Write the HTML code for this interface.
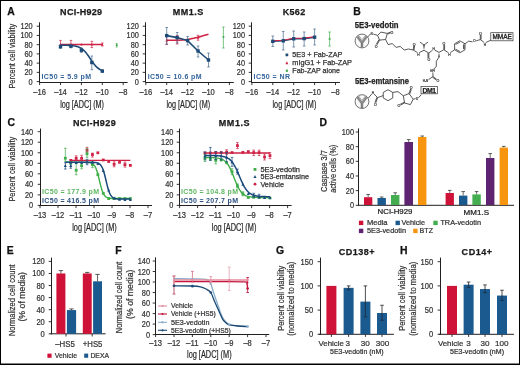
<!DOCTYPE html>
<html><head><meta charset="utf-8"><style>
html,body{margin:0;padding:0;background:#fff;}
svg{display:block;will-change:transform;font-family:"Liberation Sans", sans-serif;}
</style></head><body>
<svg width="520" height="365" viewBox="0 0 520 365">
<rect x="0" y="0" width="520" height="365" fill="#fff"/>
<rect x="0" y="0" width="520" height="1" fill="#000" />
<rect x="0" y="0" width="1" height="365" fill="#000" />
<rect x="519" y="0" width="1" height="365" fill="#000" />
<rect x="0" y="363.5" width="520" height="1.5" fill="#000" />
<text x="7.2" y="14.5" font-size="10.4" fill="#111" stroke="#111" stroke-width="0.25" font-weight="bold" textLength="8.4" lengthAdjust="spacing" >A</text>
<text x="60.1" y="15.2" font-size="9" fill="#1a1a1a" stroke="#1a1a1a" stroke-width="0.25" font-weight="bold" textLength="42" lengthAdjust="spacing" >NCI-H929</text>
<text x="172.7" y="15.3" font-size="9" fill="#1a1a1a" stroke="#1a1a1a" stroke-width="0.25" font-weight="bold" textLength="30.6" lengthAdjust="spacing" >MM1.S</text>
<text x="282.7" y="15.4" font-size="9" fill="#1a1a1a" stroke="#1a1a1a" stroke-width="0.25" font-weight="bold" textLength="22.5" lengthAdjust="spacing" >K562</text>
<line x1="39.5" y1="22.3" x2="39.5" y2="82.7" stroke="#231f20" stroke-width="1" />
<line x1="36.7" y1="81.6" x2="39.5" y2="81.6" stroke="#231f20" stroke-width="0.9" />
<text x="28.6" y="84.6" font-size="8.4" fill="#333" stroke="#333" stroke-width="0.22" textLength="4.1" lengthAdjust="spacingAndGlyphs" >0</text>
<line x1="36.7" y1="72.37" x2="39.5" y2="72.37" stroke="#231f20" stroke-width="0.9" />
<text x="24.5" y="75.37" font-size="8.4" fill="#333" stroke="#333" stroke-width="0.22" textLength="8.2" lengthAdjust="spacingAndGlyphs" >20</text>
<line x1="36.7" y1="63.13" x2="39.5" y2="63.13" stroke="#231f20" stroke-width="0.9" />
<text x="24.5" y="66.13" font-size="8.4" fill="#333" stroke="#333" stroke-width="0.22" textLength="8.2" lengthAdjust="spacingAndGlyphs" >40</text>
<line x1="36.7" y1="53.9" x2="39.5" y2="53.9" stroke="#231f20" stroke-width="0.9" />
<text x="24.5" y="56.9" font-size="8.4" fill="#333" stroke="#333" stroke-width="0.22" textLength="8.2" lengthAdjust="spacingAndGlyphs" >60</text>
<line x1="36.7" y1="44.66" x2="39.5" y2="44.66" stroke="#231f20" stroke-width="0.9" />
<text x="24.5" y="47.66" font-size="8.4" fill="#333" stroke="#333" stroke-width="0.22" textLength="8.2" lengthAdjust="spacingAndGlyphs" >80</text>
<line x1="36.7" y1="35.43" x2="39.5" y2="35.43" stroke="#231f20" stroke-width="0.9" />
<text x="20.4" y="38.43" font-size="8.4" fill="#333" stroke="#333" stroke-width="0.22" textLength="12.3" lengthAdjust="spacingAndGlyphs" >100</text>
<line x1="36.7" y1="26.2" x2="39.5" y2="26.2" stroke="#231f20" stroke-width="0.9" />
<text x="20.4" y="29.2" font-size="8.4" fill="#333" stroke="#333" stroke-width="0.22" textLength="12.3" lengthAdjust="spacingAndGlyphs" >120</text>
<line x1="39.1" y1="82.5" x2="127.6" y2="82.5" stroke="#231f20" stroke-width="1" />
<line x1="39.6" y1="82.5" x2="39.6" y2="85.1" stroke="#231f20" stroke-width="0.9" />
<text x="33.3" y="94.9" font-size="8.4" fill="#333" stroke="#333" stroke-width="0.22" textLength="12.6" lengthAdjust="spacingAndGlyphs" >–16</text>
<line x1="60.5" y1="82.5" x2="60.5" y2="85.1" stroke="#231f20" stroke-width="0.9" />
<text x="54.2" y="94.9" font-size="8.4" fill="#333" stroke="#333" stroke-width="0.22" textLength="12.6" lengthAdjust="spacingAndGlyphs" >–14</text>
<line x1="81.4" y1="82.5" x2="81.4" y2="85.1" stroke="#231f20" stroke-width="0.9" />
<text x="75.1" y="94.9" font-size="8.4" fill="#333" stroke="#333" stroke-width="0.22" textLength="12.6" lengthAdjust="spacingAndGlyphs" >–12</text>
<line x1="102.3" y1="82.5" x2="102.3" y2="85.1" stroke="#231f20" stroke-width="0.9" />
<text x="96" y="94.9" font-size="8.4" fill="#333" stroke="#333" stroke-width="0.22" textLength="12.6" lengthAdjust="spacingAndGlyphs" >–10</text>
<line x1="123.2" y1="82.5" x2="123.2" y2="85.1" stroke="#231f20" stroke-width="0.9" />
<text x="119" y="94.9" font-size="8.4" fill="#333" stroke="#333" stroke-width="0.22" textLength="8.4" lengthAdjust="spacingAndGlyphs" >–8</text>
<text x="60.2" y="107.5" font-size="10" fill="#2a2a2a" stroke="#2a2a2a" stroke-width="0.22" textLength="43.8" lengthAdjust="spacingAndGlyphs" >log [ADC] (M)</text>
<line x1="145.5" y1="22.3" x2="145.5" y2="82.7" stroke="#231f20" stroke-width="1" />
<line x1="142.7" y1="81.6" x2="145.5" y2="81.6" stroke="#231f20" stroke-width="0.9" />
<text x="134.8" y="84.6" font-size="8.4" fill="#333" stroke="#333" stroke-width="0.22" textLength="4.1" lengthAdjust="spacingAndGlyphs" >0</text>
<line x1="142.7" y1="72.37" x2="145.5" y2="72.37" stroke="#231f20" stroke-width="0.9" />
<text x="130.7" y="75.37" font-size="8.4" fill="#333" stroke="#333" stroke-width="0.22" textLength="8.2" lengthAdjust="spacingAndGlyphs" >20</text>
<line x1="142.7" y1="63.13" x2="145.5" y2="63.13" stroke="#231f20" stroke-width="0.9" />
<text x="130.7" y="66.13" font-size="8.4" fill="#333" stroke="#333" stroke-width="0.22" textLength="8.2" lengthAdjust="spacingAndGlyphs" >40</text>
<line x1="142.7" y1="53.9" x2="145.5" y2="53.9" stroke="#231f20" stroke-width="0.9" />
<text x="130.7" y="56.9" font-size="8.4" fill="#333" stroke="#333" stroke-width="0.22" textLength="8.2" lengthAdjust="spacingAndGlyphs" >60</text>
<line x1="142.7" y1="44.66" x2="145.5" y2="44.66" stroke="#231f20" stroke-width="0.9" />
<text x="130.7" y="47.66" font-size="8.4" fill="#333" stroke="#333" stroke-width="0.22" textLength="8.2" lengthAdjust="spacingAndGlyphs" >80</text>
<line x1="142.7" y1="35.43" x2="145.5" y2="35.43" stroke="#231f20" stroke-width="0.9" />
<text x="126.6" y="38.43" font-size="8.4" fill="#333" stroke="#333" stroke-width="0.22" textLength="12.3" lengthAdjust="spacingAndGlyphs" >100</text>
<line x1="142.7" y1="26.2" x2="145.5" y2="26.2" stroke="#231f20" stroke-width="0.9" />
<text x="126.6" y="29.2" font-size="8.4" fill="#333" stroke="#333" stroke-width="0.22" textLength="12.3" lengthAdjust="spacingAndGlyphs" >120</text>
<line x1="145.3" y1="82.5" x2="233.8" y2="82.5" stroke="#231f20" stroke-width="1" />
<line x1="145.8" y1="82.5" x2="145.8" y2="85.1" stroke="#231f20" stroke-width="0.9" />
<text x="139.5" y="94.9" font-size="8.4" fill="#333" stroke="#333" stroke-width="0.22" textLength="12.6" lengthAdjust="spacingAndGlyphs" >–16</text>
<line x1="166.7" y1="82.5" x2="166.7" y2="85.1" stroke="#231f20" stroke-width="0.9" />
<text x="160.4" y="94.9" font-size="8.4" fill="#333" stroke="#333" stroke-width="0.22" textLength="12.6" lengthAdjust="spacingAndGlyphs" >–14</text>
<line x1="187.6" y1="82.5" x2="187.6" y2="85.1" stroke="#231f20" stroke-width="0.9" />
<text x="181.3" y="94.9" font-size="8.4" fill="#333" stroke="#333" stroke-width="0.22" textLength="12.6" lengthAdjust="spacingAndGlyphs" >–12</text>
<line x1="208.5" y1="82.5" x2="208.5" y2="85.1" stroke="#231f20" stroke-width="0.9" />
<text x="202.2" y="94.9" font-size="8.4" fill="#333" stroke="#333" stroke-width="0.22" textLength="12.6" lengthAdjust="spacingAndGlyphs" >–10</text>
<line x1="229.4" y1="82.5" x2="229.4" y2="85.1" stroke="#231f20" stroke-width="0.9" />
<text x="225.2" y="94.9" font-size="8.4" fill="#333" stroke="#333" stroke-width="0.22" textLength="8.4" lengthAdjust="spacingAndGlyphs" >–8</text>
<text x="166.4" y="107.5" font-size="10" fill="#2a2a2a" stroke="#2a2a2a" stroke-width="0.22" textLength="43.8" lengthAdjust="spacingAndGlyphs" >log [ADC] (M)</text>
<line x1="251.5" y1="22.3" x2="251.5" y2="82.7" stroke="#231f20" stroke-width="1" />
<line x1="248.7" y1="81.6" x2="251.5" y2="81.6" stroke="#231f20" stroke-width="0.9" />
<text x="240.9" y="84.6" font-size="8.4" fill="#333" stroke="#333" stroke-width="0.22" textLength="4.1" lengthAdjust="spacingAndGlyphs" >0</text>
<line x1="248.7" y1="72.37" x2="251.5" y2="72.37" stroke="#231f20" stroke-width="0.9" />
<text x="236.8" y="75.37" font-size="8.4" fill="#333" stroke="#333" stroke-width="0.22" textLength="8.2" lengthAdjust="spacingAndGlyphs" >20</text>
<line x1="248.7" y1="63.13" x2="251.5" y2="63.13" stroke="#231f20" stroke-width="0.9" />
<text x="236.8" y="66.13" font-size="8.4" fill="#333" stroke="#333" stroke-width="0.22" textLength="8.2" lengthAdjust="spacingAndGlyphs" >40</text>
<line x1="248.7" y1="53.9" x2="251.5" y2="53.9" stroke="#231f20" stroke-width="0.9" />
<text x="236.8" y="56.9" font-size="8.4" fill="#333" stroke="#333" stroke-width="0.22" textLength="8.2" lengthAdjust="spacingAndGlyphs" >60</text>
<line x1="248.7" y1="44.66" x2="251.5" y2="44.66" stroke="#231f20" stroke-width="0.9" />
<text x="236.8" y="47.66" font-size="8.4" fill="#333" stroke="#333" stroke-width="0.22" textLength="8.2" lengthAdjust="spacingAndGlyphs" >80</text>
<line x1="248.7" y1="35.43" x2="251.5" y2="35.43" stroke="#231f20" stroke-width="0.9" />
<text x="232.7" y="38.43" font-size="8.4" fill="#333" stroke="#333" stroke-width="0.22" textLength="12.3" lengthAdjust="spacingAndGlyphs" >100</text>
<line x1="248.7" y1="26.2" x2="251.5" y2="26.2" stroke="#231f20" stroke-width="0.9" />
<text x="232.7" y="29.2" font-size="8.4" fill="#333" stroke="#333" stroke-width="0.22" textLength="12.3" lengthAdjust="spacingAndGlyphs" >120</text>
<line x1="251.4" y1="82.5" x2="339.9" y2="82.5" stroke="#231f20" stroke-width="1" />
<line x1="251.9" y1="82.5" x2="251.9" y2="85.1" stroke="#231f20" stroke-width="0.9" />
<text x="245.6" y="94.9" font-size="8.4" fill="#333" stroke="#333" stroke-width="0.22" textLength="12.6" lengthAdjust="spacingAndGlyphs" >–16</text>
<line x1="272.8" y1="82.5" x2="272.8" y2="85.1" stroke="#231f20" stroke-width="0.9" />
<text x="266.5" y="94.9" font-size="8.4" fill="#333" stroke="#333" stroke-width="0.22" textLength="12.6" lengthAdjust="spacingAndGlyphs" >–14</text>
<line x1="293.7" y1="82.5" x2="293.7" y2="85.1" stroke="#231f20" stroke-width="0.9" />
<text x="287.4" y="94.9" font-size="8.4" fill="#333" stroke="#333" stroke-width="0.22" textLength="12.6" lengthAdjust="spacingAndGlyphs" >–12</text>
<line x1="314.6" y1="82.5" x2="314.6" y2="85.1" stroke="#231f20" stroke-width="0.9" />
<text x="308.3" y="94.9" font-size="8.4" fill="#333" stroke="#333" stroke-width="0.22" textLength="12.6" lengthAdjust="spacingAndGlyphs" >–10</text>
<line x1="335.5" y1="82.5" x2="335.5" y2="85.1" stroke="#231f20" stroke-width="0.9" />
<text x="331.3" y="94.9" font-size="8.4" fill="#333" stroke="#333" stroke-width="0.22" textLength="8.4" lengthAdjust="spacingAndGlyphs" >–8</text>
<text x="272.5" y="107.5" font-size="10" fill="#2a2a2a" stroke="#2a2a2a" stroke-width="0.22" textLength="43.8" lengthAdjust="spacingAndGlyphs" >log [ADC] (M)</text>
<text transform="translate(15,88.55) rotate(-90)" font-size="8.8" fill="#333" stroke="#333" stroke-width="0.22" textLength="64.7" lengthAdjust="spacingAndGlyphs" >Percent cell viability</text>
<text x="41.5" y="79.2" font-size="7" fill="#33649b" font-weight="bold" textLength="49.5" lengthAdjust="spacing" >IC50 = 5.9 pM</text>
<text x="147.7" y="79.2" font-size="7" fill="#33649b" font-weight="bold" textLength="53.9" lengthAdjust="spacing" >IC50 = 10.6 pM</text>
<text x="253.6" y="79.2" font-size="7" fill="#33649b" font-weight="bold" textLength="36.4" lengthAdjust="spacing" >IC50 = NR</text>
<line x1="60.5" y1="44.4" x2="102.3" y2="44.4" stroke="#d02346" stroke-width="1.5" />
<line x1="60.5" y1="40.4" x2="60.5" y2="47.3" stroke="#d02346" stroke-width="0.7" />
<line x1="59.2" y1="40.4" x2="61.8" y2="40.4" stroke="#d02346" stroke-width="0.7" />
<line x1="59.2" y1="47.3" x2="61.8" y2="47.3" stroke="#d02346" stroke-width="0.7" />
<line x1="70.95" y1="40.4" x2="70.95" y2="46.2" stroke="#d02346" stroke-width="0.7" />
<line x1="69.65" y1="40.4" x2="72.25" y2="40.4" stroke="#d02346" stroke-width="0.7" />
<line x1="69.65" y1="46.2" x2="72.25" y2="46.2" stroke="#d02346" stroke-width="0.7" />
<line x1="91.85" y1="41.3" x2="91.85" y2="47.6" stroke="#d02346" stroke-width="0.7" />
<line x1="90.55" y1="41.3" x2="93.15" y2="41.3" stroke="#d02346" stroke-width="0.7" />
<line x1="90.55" y1="47.6" x2="93.15" y2="47.6" stroke="#d02346" stroke-width="0.7" />
<line x1="102.3" y1="43" x2="102.3" y2="46" stroke="#d02346" stroke-width="0.7" />
<line x1="101" y1="43" x2="103.6" y2="43" stroke="#d02346" stroke-width="0.7" />
<line x1="101" y1="46" x2="103.6" y2="46" stroke="#d02346" stroke-width="0.7" />
<path d="M60.5 42.93 L61.8 45.57 L59.2 45.57 Z" stroke="none" stroke-width="1" fill="#d02346" />
<path d="M70.95 42.93 L72.25 45.57 L69.65 45.57 Z" stroke="none" stroke-width="1" fill="#d02346" />
<path d="M81.4 42.93 L82.7 45.57 L80.1 45.57 Z" stroke="none" stroke-width="1" fill="#d02346" />
<path d="M91.85 42.93 L93.15 45.57 L90.55 45.57 Z" stroke="none" stroke-width="1" fill="#d02346" />
<path d="M102.3 42.93 L103.6 45.57 L101 45.57 Z" stroke="none" stroke-width="1" fill="#d02346" />
<path d="M60.5 45.16 C60.62 45.17 60.96 45.17 61.2 45.17 C61.43 45.17 61.66 45.18 61.89 45.18 C62.13 45.18 62.36 45.18 62.59 45.19 C62.82 45.19 63.05 45.19 63.29 45.2 C63.52 45.2 63.75 45.2 63.98 45.21 C64.22 45.21 64.45 45.22 64.68 45.22 C64.91 45.23 65.14 45.23 65.38 45.24 C65.61 45.24 65.84 45.25 66.07 45.26 C66.31 45.26 66.54 45.27 66.77 45.28 C67 45.29 67.23 45.29 67.47 45.3 C67.7 45.31 67.93 45.32 68.16 45.33 C68.4 45.34 68.63 45.35 68.86 45.37 C69.09 45.38 69.32 45.39 69.56 45.41 C69.79 45.42 70.02 45.44 70.25 45.45 C70.49 45.47 70.72 45.49 70.95 45.51 C71.18 45.52 71.41 45.54 71.65 45.57 C71.88 45.59 72.11 45.61 72.34 45.64 C72.58 45.66 72.81 45.69 73.04 45.72 C73.27 45.75 73.5 45.78 73.74 45.82 C73.97 45.85 74.2 45.89 74.43 45.93 C74.67 45.97 74.9 46.01 75.13 46.06 C75.36 46.11 75.59 46.15 75.83 46.21 C76.06 46.26 76.29 46.32 76.52 46.38 C76.76 46.44 76.99 46.51 77.22 46.58 C77.45 46.65 77.68 46.72 77.92 46.8 C78.15 46.88 78.38 46.97 78.61 47.06 C78.85 47.15 79.08 47.25 79.31 47.35 C79.54 47.46 79.77 47.57 80.01 47.69 C80.24 47.81 80.47 47.93 80.7 48.07 C80.94 48.2 81.17 48.35 81.4 48.5 C81.63 48.65 81.86 48.81 82.1 48.98 C82.33 49.15 82.56 49.33 82.79 49.51 C83.03 49.7 83.26 49.9 83.49 50.11 C83.72 50.32 83.95 50.54 84.19 50.76 C84.42 50.99 84.65 51.23 84.88 51.48 C85.12 51.73 85.35 51.99 85.58 52.26 C85.81 52.53 86.04 52.81 86.28 53.1 C86.51 53.39 86.74 53.68 86.97 53.99 C87.21 54.29 87.44 54.61 87.67 54.93 C87.9 55.25 88.13 55.58 88.37 55.91 C88.6 56.25 88.83 56.59 89.06 56.93 C89.3 57.27 89.53 57.62 89.76 57.96 C89.99 58.31 90.22 58.66 90.46 59.01 C90.69 59.35 90.92 59.7 91.15 60.05 C91.39 60.39 91.62 60.74 91.85 61.07 C92.08 61.41 92.31 61.75 92.55 62.07 C92.78 62.4 93.01 62.72 93.24 63.04 C93.48 63.35 93.71 63.66 93.94 63.96 C94.17 64.25 94.4 64.54 94.64 64.82 C94.87 65.1 95.1 65.37 95.33 65.63 C95.57 65.89 95.8 66.14 96.03 66.38 C96.26 66.62 96.49 66.84 96.73 67.06 C96.96 67.28 97.19 67.49 97.42 67.69 C97.66 67.89 97.89 68.07 98.12 68.25 C98.35 68.43 98.58 68.6 98.82 68.76 C99.05 68.92 99.28 69.07 99.51 69.21 C99.75 69.36 99.98 69.49 100.21 69.62 C100.44 69.74 100.67 69.86 100.91 69.97 C101.14 70.09 101.37 70.19 101.6 70.29 C101.84 70.39 102.18 70.52 102.3 70.57" stroke="#1d4a76" stroke-width="1.6" fill="none" />
<line x1="60.5" y1="45" x2="60.5" y2="48.5" stroke="#46698c" stroke-width="0.7" />
<line x1="59.3" y1="45" x2="61.7" y2="45" stroke="#46698c" stroke-width="0.7" />
<line x1="59.3" y1="48.5" x2="61.7" y2="48.5" stroke="#46698c" stroke-width="0.7" />
<line x1="70.95" y1="45" x2="70.95" y2="47.8" stroke="#46698c" stroke-width="0.7" />
<line x1="69.75" y1="45" x2="72.15" y2="45" stroke="#46698c" stroke-width="0.7" />
<line x1="69.75" y1="47.8" x2="72.15" y2="47.8" stroke="#46698c" stroke-width="0.7" />
<line x1="81.4" y1="48" x2="81.4" y2="52.4" stroke="#46698c" stroke-width="0.7" />
<line x1="80.2" y1="48" x2="82.6" y2="48" stroke="#46698c" stroke-width="0.7" />
<line x1="80.2" y1="52.4" x2="82.6" y2="52.4" stroke="#46698c" stroke-width="0.7" />
<line x1="91.85" y1="56" x2="91.85" y2="69.7" stroke="#46698c" stroke-width="0.7" />
<line x1="90.65" y1="56" x2="93.05" y2="56" stroke="#46698c" stroke-width="0.7" />
<line x1="90.65" y1="69.7" x2="93.05" y2="69.7" stroke="#46698c" stroke-width="0.7" />
<line x1="102.3" y1="70" x2="102.3" y2="72.2" stroke="#46698c" stroke-width="0.7" />
<line x1="101.1" y1="70" x2="103.5" y2="70" stroke="#46698c" stroke-width="0.7" />
<line x1="101.1" y1="72.2" x2="103.5" y2="72.2" stroke="#46698c" stroke-width="0.7" />
<rect x="58.8" y="44.9" width="3.4" height="3.4" fill="#1d4a76" />
<rect x="69.25" y="44.5" width="3.4" height="3.4" fill="#1d4a76" />
<rect x="79.7" y="48.5" width="3.4" height="3.4" fill="#1d4a76" />
<rect x="90.15" y="60.8" width="3.4" height="3.4" fill="#1d4a76" />
<rect x="100.6" y="69.4" width="3.4" height="3.4" fill="#1d4a76" />
<line x1="116.7" y1="43.5" x2="116.7" y2="47" stroke="#43ad4f" stroke-width="0.8" />
<line x1="115.9" y1="43.5" x2="117.5" y2="43.5" stroke="#43ad4f" stroke-width="0.8" />
<line x1="115.9" y1="47" x2="117.5" y2="47" stroke="#43ad4f" stroke-width="0.8" />
<rect x="115.8" y="44.3" width="1.8" height="1.8" fill="#43ad4f" />
<path d="M166.7 40.3 C168.44 40.28 173.67 40.35 177.15 40.2 C180.63 40.05 184.12 39.88 187.6 39.4 C191.08 38.92 194.57 38.17 198.05 37.3 C201.53 36.43 206.76 34.72 208.5 34.2" stroke="#d02346" stroke-width="1.5" fill="none" />
<line x1="166.7" y1="36" x2="166.7" y2="44.5" stroke="#d02346" stroke-width="0.7" />
<line x1="165.4" y1="36" x2="168" y2="36" stroke="#d02346" stroke-width="0.7" />
<line x1="165.4" y1="44.5" x2="168" y2="44.5" stroke="#d02346" stroke-width="0.7" />
<line x1="177.15" y1="35.5" x2="177.15" y2="44" stroke="#d02346" stroke-width="0.7" />
<line x1="175.85" y1="35.5" x2="178.45" y2="35.5" stroke="#d02346" stroke-width="0.7" />
<line x1="175.85" y1="44" x2="178.45" y2="44" stroke="#d02346" stroke-width="0.7" />
<line x1="198.05" y1="35.3" x2="198.05" y2="40.2" stroke="#d02346" stroke-width="0.7" />
<line x1="196.75" y1="35.3" x2="199.35" y2="35.3" stroke="#d02346" stroke-width="0.7" />
<line x1="196.75" y1="40.2" x2="199.35" y2="40.2" stroke="#d02346" stroke-width="0.7" />
<path d="M166.7 38.83 L168 41.47 L165.4 41.47 Z" stroke="none" stroke-width="1" fill="#d02346" />
<path d="M177.15 38.73 L178.45 41.37 L175.85 41.37 Z" stroke="none" stroke-width="1" fill="#d02346" />
<path d="M198.05 36.13 L199.35 38.77 L196.75 38.77 Z" stroke="none" stroke-width="1" fill="#d02346" />
<path d="M166.7 35.6 L177.15 37.6 L187.6 40.6 L198.05 51 L208.5 60" stroke="#1d4a76" stroke-width="1.6" fill="none" />
<line x1="166.7" y1="27.5" x2="166.7" y2="44.1" stroke="#46698c" stroke-width="0.7" />
<line x1="165.4" y1="27.5" x2="168" y2="27.5" stroke="#46698c" stroke-width="0.7" />
<line x1="165.4" y1="44.1" x2="168" y2="44.1" stroke="#46698c" stroke-width="0.7" />
<line x1="177.15" y1="32.5" x2="177.15" y2="43" stroke="#46698c" stroke-width="0.7" />
<line x1="175.85" y1="32.5" x2="178.45" y2="32.5" stroke="#46698c" stroke-width="0.7" />
<line x1="175.85" y1="43" x2="178.45" y2="43" stroke="#46698c" stroke-width="0.7" />
<line x1="187.6" y1="36.5" x2="187.6" y2="45" stroke="#46698c" stroke-width="0.7" />
<line x1="186.3" y1="36.5" x2="188.9" y2="36.5" stroke="#46698c" stroke-width="0.7" />
<line x1="186.3" y1="45" x2="188.9" y2="45" stroke="#46698c" stroke-width="0.7" />
<line x1="198.05" y1="46" x2="198.05" y2="57" stroke="#46698c" stroke-width="0.7" />
<line x1="196.75" y1="46" x2="199.35" y2="46" stroke="#46698c" stroke-width="0.7" />
<line x1="196.75" y1="57" x2="199.35" y2="57" stroke="#46698c" stroke-width="0.7" />
<line x1="208.5" y1="53" x2="208.5" y2="67" stroke="#46698c" stroke-width="0.7" />
<line x1="207.2" y1="53" x2="209.8" y2="53" stroke="#46698c" stroke-width="0.7" />
<line x1="207.2" y1="67" x2="209.8" y2="67" stroke="#46698c" stroke-width="0.7" />
<rect x="165" y="33.9" width="3.4" height="3.4" fill="#1d4a76" />
<rect x="175.45" y="35.9" width="3.4" height="3.4" fill="#1d4a76" />
<rect x="185.9" y="38.9" width="3.4" height="3.4" fill="#1d4a76" />
<rect x="196.35" y="49.3" width="3.4" height="3.4" fill="#1d4a76" />
<rect x="206.8" y="58.3" width="3.4" height="3.4" fill="#1d4a76" />
<line x1="223.4" y1="27" x2="223.4" y2="48" stroke="#43ad4f" stroke-width="0.7" />
<line x1="222.1" y1="27" x2="224.7" y2="27" stroke="#43ad4f" stroke-width="0.7" />
<line x1="222.1" y1="48" x2="224.7" y2="48" stroke="#43ad4f" stroke-width="0.7" />
<rect x="222.5" y="36.1" width="1.8" height="1.8" fill="#43ad4f" />
<line x1="272.8" y1="36" x2="272.8" y2="46.5" stroke="#46698c" stroke-width="0.7" />
<line x1="271.5" y1="36" x2="274.1" y2="36" stroke="#46698c" stroke-width="0.7" />
<line x1="271.5" y1="46.5" x2="274.1" y2="46.5" stroke="#46698c" stroke-width="0.7" />
<line x1="283.25" y1="31.5" x2="283.25" y2="50" stroke="#46698c" stroke-width="0.7" />
<line x1="281.95" y1="31.5" x2="284.55" y2="31.5" stroke="#46698c" stroke-width="0.7" />
<line x1="281.95" y1="50" x2="284.55" y2="50" stroke="#46698c" stroke-width="0.7" />
<line x1="293.7" y1="31" x2="293.7" y2="47" stroke="#46698c" stroke-width="0.7" />
<line x1="292.4" y1="31" x2="295" y2="31" stroke="#46698c" stroke-width="0.7" />
<line x1="292.4" y1="47" x2="295" y2="47" stroke="#46698c" stroke-width="0.7" />
<line x1="304.15" y1="32" x2="304.15" y2="46" stroke="#46698c" stroke-width="0.7" />
<line x1="302.85" y1="32" x2="305.45" y2="32" stroke="#46698c" stroke-width="0.7" />
<line x1="302.85" y1="46" x2="305.45" y2="46" stroke="#46698c" stroke-width="0.7" />
<line x1="314.6" y1="29" x2="314.6" y2="45" stroke="#46698c" stroke-width="0.7" />
<line x1="313.3" y1="29" x2="315.9" y2="29" stroke="#46698c" stroke-width="0.7" />
<line x1="313.3" y1="45" x2="315.9" y2="45" stroke="#46698c" stroke-width="0.7" />
<path d="M272.8 41.3 L283.25 40.8 L293.7 38.8 L304.15 38.6 L314.6 37.2" stroke="#1d4a76" stroke-width="1.6" fill="none" />
<path d="M272.8 40.8 L283.25 40.3 L293.7 38.3 L304.15 38.1 L314.6 36.7" stroke="#d02346" stroke-width="1.1" fill="none" />
<rect x="271.1" y="39.6" width="3.4" height="3.4" fill="#1d4a76" />
<rect x="281.55" y="39.1" width="3.4" height="3.4" fill="#1d4a76" />
<rect x="292" y="37.1" width="3.4" height="3.4" fill="#1d4a76" />
<rect x="302.45" y="36.9" width="3.4" height="3.4" fill="#1d4a76" />
<rect x="312.9" y="35.5" width="3.4" height="3.4" fill="#1d4a76" />
<line x1="329.6" y1="32" x2="329.6" y2="46" stroke="#43ad4f" stroke-width="0.7" />
<line x1="328.3" y1="32" x2="330.9" y2="32" stroke="#43ad4f" stroke-width="0.7" />
<line x1="328.3" y1="46" x2="330.9" y2="46" stroke="#43ad4f" stroke-width="0.7" />
<rect x="328.7" y="38.1" width="1.8" height="1.8" fill="#43ad4f" />
<rect x="285.55" y="53.55" width="2.7" height="2.7" fill="#1d4a76" />
<text x="292.3" y="57.3" font-size="7" fill="#333" stroke="#333" stroke-width="0.25" textLength="50" lengthAdjust="spacingAndGlyphs" >5E3 + Fab-ZAP</text>
<path d="M286.9 61.25 L288.4 64.25 L285.4 64.25 Z" stroke="none" stroke-width="1" fill="#d02346" />
<text x="292.3" y="65.3" font-size="7" fill="#333" stroke="#333" stroke-width="0.25" textLength="59.7" lengthAdjust="spacingAndGlyphs" >mIgG1 + Fab-ZAP</text>
<circle cx="286.9" cy="70.8" r="1.2" fill="#43ad4f"/>
<text x="292.3" y="72.8" font-size="7" fill="#333" stroke="#333" stroke-width="0.25" textLength="47.7" lengthAdjust="spacingAndGlyphs" >Fab-ZAP alone</text>
<text x="353.2" y="14.7" font-size="10.4" fill="#111" stroke="#111" stroke-width="0.25" font-weight="bold" >B</text>
<text x="354.8" y="28.2" font-size="8.8" fill="#222" stroke="#222" stroke-width="0.25" font-weight="bold" textLength="43.8" lengthAdjust="spacingAndGlyphs" >5E3-vedotin</text>
<text x="355" y="83.9" font-size="8.8" fill="#222" stroke="#222" stroke-width="0.25" font-weight="bold" textLength="54" lengthAdjust="spacingAndGlyphs" >5E3-emtansine</text>
<circle cx="362" cy="41" r="6.9" fill="#fbfbfb" stroke="#333" stroke-width="0.7"/>
<path d="M357.3 36.5 L361.5 42.2" stroke="#8a8a8a" stroke-width="2.5" fill="none" />
<path d="M358.8 35.4 L361.8 39.6" stroke="#5a5a5a" stroke-width="0.45" fill="none" />
<path d="M366.7 36.5 L362.5 42.2" stroke="#8a8a8a" stroke-width="2.5" fill="none" />
<path d="M365.2 35.4 L362.2 39.6" stroke="#5a5a5a" stroke-width="0.45" fill="none" />
<path d="M362 41.2 L362 47.7" stroke="#8a8a8a" stroke-width="2.5" fill="none" />
<path d="M361.7 42.5 L361.7 47.5" stroke="#5a5a5a" stroke-width="0.45" fill="none" />
<path d="M367.6 37 L370.8 33.6" stroke="#2e2e2e" stroke-width="0.8" fill="none" />
<text x="371.8" y="34.6" font-size="3.6" fill="#444" stroke="#444" stroke-width="0.22" text-anchor="middle" >S</text>
<path d="M373.2 34 L377.6 35.4" stroke="#2e2e2e" stroke-width="0.8" fill="none" />
<path d="M377.6 35.4 L380.9 32.1 L387.3 33.4 L385.6 39.5 L379.6 40.1 L377.6 35.4" stroke="#2e2e2e" stroke-width="0.8" fill="none" />
<line x1="387.3" y1="33.4" x2="390.4" y2="32.1" stroke="#2e2e2e" stroke-width="0.8" />
<line x1="387.61" y1="34.14" x2="390.71" y2="32.84" stroke="#2e2e2e" stroke-width="0.8" />
<text x="392" y="33.7" font-size="3.6" fill="#444" stroke="#444" stroke-width="0.22" text-anchor="middle" >O</text>
<line x1="379.6" y1="40.1" x2="377" y2="44.8" stroke="#2e2e2e" stroke-width="0.8" />
<line x1="378.9" y1="39.71" x2="376.3" y2="44.41" stroke="#2e2e2e" stroke-width="0.8" />
<text x="376.2" y="47.8" font-size="3.6" fill="#444" stroke="#444" stroke-width="0.22" text-anchor="middle" >O</text>
<path d="M385.6 39.5 L388.2 44.6 L392.2 43.6 L396.2 47.4 L400.2 46.4 L404.2 50 L408.4 49 L413.2 50" stroke="#2e2e2e" stroke-width="0.8" fill="none" />
<line x1="413.2" y1="50" x2="413.8" y2="45.5" stroke="#2e2e2e" stroke-width="0.8" />
<line x1="413.99" y1="50.11" x2="414.59" y2="45.61" stroke="#2e2e2e" stroke-width="0.8" />
<text x="414.2" y="45.5" font-size="3.6" fill="#444" stroke="#444" stroke-width="0.22" text-anchor="middle" >O</text>
<path d="M413.2 50 L417.6 52.6" stroke="#2e2e2e" stroke-width="0.8" fill="none" />
<text x="418.3" y="55.55" font-size="3.2" fill="#444" stroke="#444" stroke-width="0.22" text-anchor="middle" >H</text>
<path d="M419.2 52.6 L424 50.3" stroke="#2e2e2e" stroke-width="0.8" fill="none" />
<path d="M424 50.3 L423.2 44.9 L424.8 44.9 Z" stroke="none" stroke-width="1" fill="#2e2e2e" />
<path d="M419.9 42.1 L424 44.9 L428 42.1" stroke="#2e2e2e" stroke-width="0.8" fill="none" />
<path d="M424 50.3 L428.8 53" stroke="#2e2e2e" stroke-width="0.8" fill="none" />
<line x1="428.8" y1="53" x2="428.8" y2="58" stroke="#2e2e2e" stroke-width="0.8" />
<line x1="428" y1="53" x2="428" y2="58" stroke="#2e2e2e" stroke-width="0.8" />
<text x="428.8" y="61.3" font-size="3.6" fill="#444" stroke="#444" stroke-width="0.22" text-anchor="middle" >O</text>
<path d="M428.8 53 L432.6 50.2" stroke="#2e2e2e" stroke-width="0.8" fill="none" />
<text x="433.6" y="49.75" font-size="3.2" fill="#444" stroke="#444" stroke-width="0.22" text-anchor="middle" >H</text>
<path d="M434.6 50 L439 52.4" stroke="#2e2e2e" stroke-width="0.8" fill="none" />
<path d="M439 52.4 L438.2 57.2 L439.8 57.2 Z" stroke="none" stroke-width="1" fill="#2e2e2e" />
<path d="M439 57.2 L436.3 61.3 L436.3 66.6 L433.2 69.4" stroke="#2e2e2e" stroke-width="0.8" fill="none" />
<text x="432.5" y="72.08" font-size="3" fill="#444" stroke="#444" stroke-width="0.22" text-anchor="middle" >NH</text>
<path d="M432.8 72.5 L433 76.6" stroke="#2e2e2e" stroke-width="0.8" fill="none" />
<line x1="433" y1="76.6" x2="436.6" y2="79.2" stroke="#2e2e2e" stroke-width="0.8" />
<line x1="432.53" y1="77.25" x2="436.13" y2="79.85" stroke="#2e2e2e" stroke-width="0.8" />
<text x="437.8" y="81.8" font-size="3.6" fill="#444" stroke="#444" stroke-width="0.22" text-anchor="middle" >O</text>
<path d="M433 76.6 L428.5 79.6" stroke="#2e2e2e" stroke-width="0.8" fill="none" />
<text x="425.5" y="82.08" font-size="3" fill="#444" stroke="#444" stroke-width="0.22" text-anchor="middle" >H₂N</text>
<path d="M439 52.4 L443.8 49.7" stroke="#2e2e2e" stroke-width="0.8" fill="none" />
<line x1="443.8" y1="49.7" x2="443.8" y2="45" stroke="#2e2e2e" stroke-width="0.8" />
<line x1="444.6" y1="49.7" x2="444.6" y2="45" stroke="#2e2e2e" stroke-width="0.8" />
<text x="443.8" y="44.9" font-size="3.6" fill="#444" stroke="#444" stroke-width="0.22" text-anchor="middle" >O</text>
<path d="M443.8 49.7 L448.5 52.8" stroke="#2e2e2e" stroke-width="0.8" fill="none" />
<text x="449.3" y="55.75" font-size="3.2" fill="#444" stroke="#444" stroke-width="0.22" text-anchor="middle" >H</text>
<path d="M450.3 52.6 L454.6 49.8" stroke="#2e2e2e" stroke-width="0.8" fill="none" />
<path d="M459.8 40.8 L465 43.8 L465 49.8 L459.8 52.8 L454.6 49.8 L454.6 43.8 L459.8 40.8" stroke="#2e2e2e" stroke-width="0.8" fill="none" />
<line x1="463.8" y1="44.5" x2="463.8" y2="49.1" stroke="#2e2e2e" stroke-width="0.8" />
<line x1="463.8" y1="44.5" x2="463.8" y2="49.1" stroke="#2e2e2e" stroke-width="0.8" />
<line x1="460" y1="51.5" x2="455.6" y2="49.2" stroke="#2e2e2e" stroke-width="0.8" />
<line x1="455.6" y1="44.4" x2="460" y2="42.1" stroke="#2e2e2e" stroke-width="0.8" />
<path d="M465 43.8 L468.6 41.2 L472.6 41.8" stroke="#2e2e2e" stroke-width="0.8" fill="none" />
<text x="474.4" y="42.38" font-size="3" fill="#444" stroke="#444" stroke-width="0.22" text-anchor="middle" >O</text>
<path d="M476.2 40.8 L480.3 39.6" stroke="#2e2e2e" stroke-width="0.8" fill="none" />
<line x1="480.3" y1="39.6" x2="480.3" y2="35" stroke="#2e2e2e" stroke-width="0.8" />
<line x1="481.1" y1="39.6" x2="481.1" y2="35" stroke="#2e2e2e" stroke-width="0.8" />
<text x="480.3" y="34.9" font-size="3.6" fill="#444" stroke="#444" stroke-width="0.22" text-anchor="middle" >O</text>
<path d="M480.3 39.6 L484.2 42.5" stroke="#2e2e2e" stroke-width="0.8" fill="none" />
<text x="484.8" y="45.55" font-size="3.2" fill="#444" stroke="#444" stroke-width="0.22" text-anchor="middle" >H</text>
<path d="M485.8 42.5 L490.8 40.2" stroke="#2e2e2e" stroke-width="0.8" fill="none" />
<rect x="490.8" y="32.7" width="22.2" height="8.1" fill="#fff" stroke="#333" stroke-width="0.7" />
<text x="492.4" y="39.4" font-size="7" fill="#222" stroke="#222" stroke-width="0.35" textLength="19.4" lengthAdjust="spacingAndGlyphs" >MMAE</text>
<circle cx="362" cy="101.6" r="6.9" fill="#fbfbfb" stroke="#333" stroke-width="0.7"/>
<path d="M357.3 97.1 L361.5 102.8" stroke="#8a8a8a" stroke-width="2.5" fill="none" />
<path d="M358.8 96 L361.8 100.2" stroke="#5a5a5a" stroke-width="0.45" fill="none" />
<path d="M366.7 97.1 L362.5 102.8" stroke="#8a8a8a" stroke-width="2.5" fill="none" />
<path d="M365.2 96 L362.2 100.2" stroke="#5a5a5a" stroke-width="0.45" fill="none" />
<path d="M362 101.8 L362 108.3" stroke="#8a8a8a" stroke-width="2.5" fill="none" />
<path d="M361.7 103.1 L361.7 108.1" stroke="#5a5a5a" stroke-width="0.45" fill="none" />
<path d="M368.4 98 L371.9 93.8" stroke="#2e2e2e" stroke-width="0.8" fill="none" />
<text x="373" y="93.75" font-size="3.2" fill="#444" stroke="#444" stroke-width="0.22" text-anchor="middle" >H</text>
<path d="M374 94 L377.6 97.6" stroke="#2e2e2e" stroke-width="0.8" fill="none" />
<line x1="377.6" y1="97.6" x2="375.8" y2="102.8" stroke="#2e2e2e" stroke-width="0.8" />
<line x1="376.84" y1="97.34" x2="375.04" y2="102.54" stroke="#2e2e2e" stroke-width="0.8" />
<text x="375.3" y="106.1" font-size="3.6" fill="#444" stroke="#444" stroke-width="0.22" text-anchor="middle" >O</text>
<path d="M377.6 97.6 L383.2 95.6" stroke="#2e2e2e" stroke-width="0.8" fill="none" />
<path d="M388 89.7 L392.76 92.45 L392.76 97.95 L388 100.7 L383.24 97.95 L383.24 92.45 L388 89.7" stroke="#2e2e2e" stroke-width="0.8" fill="none" />
<path d="M392.76 92.45 L398 91.6 L403.3 95.8" stroke="#2e2e2e" stroke-width="0.8" fill="none" />
<path d="M403.3 95.8 L409 93.6 L413.2 99.2 L410.4 104.6 L404.6 103 L403.3 95.8" stroke="#2e2e2e" stroke-width="0.8" fill="none" />
<line x1="409" y1="93.6" x2="410.6" y2="89" stroke="#2e2e2e" stroke-width="0.8" />
<line x1="409.76" y1="93.86" x2="411.36" y2="89.26" stroke="#2e2e2e" stroke-width="0.8" />
<text x="411.2" y="88.7" font-size="3.6" fill="#444" stroke="#444" stroke-width="0.22" text-anchor="middle" >O</text>
<line x1="404.6" y1="103" x2="400.6" y2="105" stroke="#2e2e2e" stroke-width="0.8" />
<line x1="404.24" y1="102.28" x2="400.24" y2="104.28" stroke="#2e2e2e" stroke-width="0.8" />
<text x="399" y="107.1" font-size="3.6" fill="#444" stroke="#444" stroke-width="0.22" text-anchor="middle" >O</text>
<path d="M413.2 99.2 L415.6 98.6" stroke="#2e2e2e" stroke-width="0.8" fill="none" />
<text x="417" y="99.7" font-size="3.6" fill="#444" stroke="#444" stroke-width="0.22" text-anchor="middle" >S</text>
<path d="M418.4 97.8 L421.4 94.6" stroke="#2e2e2e" stroke-width="0.8" fill="none" />
<rect x="421" y="86.6" width="16.6" height="7.2" fill="#fff" stroke="#333" stroke-width="0.7" />
<text x="422.5" y="92.6" font-size="6.8" fill="#222" stroke="#222" stroke-width="0.25" font-weight="bold" textLength="13.6" lengthAdjust="spacing" >DM1</text>
<text x="7.4" y="125.7" font-size="10.4" fill="#111" stroke="#111" stroke-width="0.25" font-weight="bold" >C</text>
<text x="72.9" y="126.3" font-size="9" fill="#1a1a1a" stroke="#1a1a1a" stroke-width="0.25" font-weight="bold" textLength="42.8" lengthAdjust="spacing" >NCI-H929</text>
<text x="218.8" y="126.2" font-size="9" fill="#1a1a1a" stroke="#1a1a1a" stroke-width="0.25" font-weight="bold" textLength="30.8" lengthAdjust="spacing" >MM1.S</text>
<line x1="40.5" y1="128.6" x2="40.5" y2="205.9" stroke="#231f20" stroke-width="1" />
<line x1="37.7" y1="205.4" x2="40.5" y2="205.4" stroke="#231f20" stroke-width="0.9" />
<text x="29.1" y="208.4" font-size="8.4" fill="#333" stroke="#333" stroke-width="0.22" textLength="4.1" lengthAdjust="spacingAndGlyphs" >0</text>
<line x1="37.7" y1="194.87" x2="40.5" y2="194.87" stroke="#231f20" stroke-width="0.9" />
<text x="25" y="197.87" font-size="8.4" fill="#333" stroke="#333" stroke-width="0.22" textLength="8.2" lengthAdjust="spacingAndGlyphs" >20</text>
<line x1="37.7" y1="184.34" x2="40.5" y2="184.34" stroke="#231f20" stroke-width="0.9" />
<text x="25" y="187.34" font-size="8.4" fill="#333" stroke="#333" stroke-width="0.22" textLength="8.2" lengthAdjust="spacingAndGlyphs" >40</text>
<line x1="37.7" y1="173.82" x2="40.5" y2="173.82" stroke="#231f20" stroke-width="0.9" />
<text x="25" y="176.82" font-size="8.4" fill="#333" stroke="#333" stroke-width="0.22" textLength="8.2" lengthAdjust="spacingAndGlyphs" >60</text>
<line x1="37.7" y1="163.29" x2="40.5" y2="163.29" stroke="#231f20" stroke-width="0.9" />
<text x="25" y="166.29" font-size="8.4" fill="#333" stroke="#333" stroke-width="0.22" textLength="8.2" lengthAdjust="spacingAndGlyphs" >80</text>
<line x1="37.7" y1="152.76" x2="40.5" y2="152.76" stroke="#231f20" stroke-width="0.9" />
<text x="20.9" y="155.76" font-size="8.4" fill="#333" stroke="#333" stroke-width="0.22" textLength="12.3" lengthAdjust="spacingAndGlyphs" >100</text>
<line x1="37.7" y1="142.23" x2="40.5" y2="142.23" stroke="#231f20" stroke-width="0.9" />
<text x="20.9" y="145.23" font-size="8.4" fill="#333" stroke="#333" stroke-width="0.22" textLength="12.3" lengthAdjust="spacingAndGlyphs" >120</text>
<line x1="37.7" y1="131.7" x2="40.5" y2="131.7" stroke="#231f20" stroke-width="0.9" />
<text x="20.9" y="134.7" font-size="8.4" fill="#333" stroke="#333" stroke-width="0.22" textLength="12.3" lengthAdjust="spacingAndGlyphs" >140</text>
<line x1="39.5" y1="205.5" x2="152" y2="205.5" stroke="#231f20" stroke-width="1" />
<line x1="40" y1="205.5" x2="40" y2="208.1" stroke="#231f20" stroke-width="0.9" />
<text x="33.7" y="217.9" font-size="8.4" fill="#333" stroke="#333" stroke-width="0.22" textLength="12.6" lengthAdjust="spacingAndGlyphs" >–13</text>
<line x1="58" y1="205.5" x2="58" y2="208.1" stroke="#231f20" stroke-width="0.9" />
<text x="51.7" y="217.9" font-size="8.4" fill="#333" stroke="#333" stroke-width="0.22" textLength="12.6" lengthAdjust="spacingAndGlyphs" >–12</text>
<line x1="76" y1="205.5" x2="76" y2="208.1" stroke="#231f20" stroke-width="0.9" />
<text x="69.7" y="217.9" font-size="8.4" fill="#333" stroke="#333" stroke-width="0.22" textLength="12.6" lengthAdjust="spacingAndGlyphs" >–11</text>
<line x1="94" y1="205.5" x2="94" y2="208.1" stroke="#231f20" stroke-width="0.9" />
<text x="87.7" y="217.9" font-size="8.4" fill="#333" stroke="#333" stroke-width="0.22" textLength="12.6" lengthAdjust="spacingAndGlyphs" >–10</text>
<line x1="112" y1="205.5" x2="112" y2="208.1" stroke="#231f20" stroke-width="0.9" />
<text x="107.8" y="217.9" font-size="8.4" fill="#333" stroke="#333" stroke-width="0.22" textLength="8.4" lengthAdjust="spacingAndGlyphs" >–9</text>
<line x1="130" y1="205.5" x2="130" y2="208.1" stroke="#231f20" stroke-width="0.9" />
<text x="125.8" y="217.9" font-size="8.4" fill="#333" stroke="#333" stroke-width="0.22" textLength="8.4" lengthAdjust="spacingAndGlyphs" >–8</text>
<line x1="148" y1="205.5" x2="148" y2="208.1" stroke="#231f20" stroke-width="0.9" />
<text x="143.8" y="217.9" font-size="8.4" fill="#333" stroke="#333" stroke-width="0.22" textLength="8.4" lengthAdjust="spacingAndGlyphs" >–7</text>
<text x="72.2" y="231.1" font-size="10" fill="#2a2a2a" stroke="#2a2a2a" stroke-width="0.22" textLength="44.6" lengthAdjust="spacingAndGlyphs" >log [ADC] (M)</text>
<line x1="179.5" y1="128.6" x2="179.5" y2="205.9" stroke="#231f20" stroke-width="1" />
<line x1="176.7" y1="205.4" x2="179.5" y2="205.4" stroke="#231f20" stroke-width="0.9" />
<text x="169.3" y="208.4" font-size="8.4" fill="#333" stroke="#333" stroke-width="0.22" textLength="4.1" lengthAdjust="spacingAndGlyphs" >0</text>
<line x1="176.7" y1="194.87" x2="179.5" y2="194.87" stroke="#231f20" stroke-width="0.9" />
<text x="165.2" y="197.87" font-size="8.4" fill="#333" stroke="#333" stroke-width="0.22" textLength="8.2" lengthAdjust="spacingAndGlyphs" >20</text>
<line x1="176.7" y1="184.34" x2="179.5" y2="184.34" stroke="#231f20" stroke-width="0.9" />
<text x="165.2" y="187.34" font-size="8.4" fill="#333" stroke="#333" stroke-width="0.22" textLength="8.2" lengthAdjust="spacingAndGlyphs" >40</text>
<line x1="176.7" y1="173.82" x2="179.5" y2="173.82" stroke="#231f20" stroke-width="0.9" />
<text x="165.2" y="176.82" font-size="8.4" fill="#333" stroke="#333" stroke-width="0.22" textLength="8.2" lengthAdjust="spacingAndGlyphs" >60</text>
<line x1="176.7" y1="163.29" x2="179.5" y2="163.29" stroke="#231f20" stroke-width="0.9" />
<text x="165.2" y="166.29" font-size="8.4" fill="#333" stroke="#333" stroke-width="0.22" textLength="8.2" lengthAdjust="spacingAndGlyphs" >80</text>
<line x1="176.7" y1="152.76" x2="179.5" y2="152.76" stroke="#231f20" stroke-width="0.9" />
<text x="161.1" y="155.76" font-size="8.4" fill="#333" stroke="#333" stroke-width="0.22" textLength="12.3" lengthAdjust="spacingAndGlyphs" >100</text>
<line x1="176.7" y1="142.23" x2="179.5" y2="142.23" stroke="#231f20" stroke-width="0.9" />
<text x="161.1" y="145.23" font-size="8.4" fill="#333" stroke="#333" stroke-width="0.22" textLength="12.3" lengthAdjust="spacingAndGlyphs" >120</text>
<line x1="176.7" y1="131.7" x2="179.5" y2="131.7" stroke="#231f20" stroke-width="0.9" />
<text x="161.1" y="134.7" font-size="8.4" fill="#333" stroke="#333" stroke-width="0.22" textLength="12.3" lengthAdjust="spacingAndGlyphs" >140</text>
<line x1="179.1" y1="205.5" x2="291.6" y2="205.5" stroke="#231f20" stroke-width="1" />
<line x1="179.6" y1="205.5" x2="179.6" y2="208.1" stroke="#231f20" stroke-width="0.9" />
<text x="173.3" y="217.9" font-size="8.4" fill="#333" stroke="#333" stroke-width="0.22" textLength="12.6" lengthAdjust="spacingAndGlyphs" >–13</text>
<line x1="197.6" y1="205.5" x2="197.6" y2="208.1" stroke="#231f20" stroke-width="0.9" />
<text x="191.3" y="217.9" font-size="8.4" fill="#333" stroke="#333" stroke-width="0.22" textLength="12.6" lengthAdjust="spacingAndGlyphs" >–12</text>
<line x1="215.6" y1="205.5" x2="215.6" y2="208.1" stroke="#231f20" stroke-width="0.9" />
<text x="209.3" y="217.9" font-size="8.4" fill="#333" stroke="#333" stroke-width="0.22" textLength="12.6" lengthAdjust="spacingAndGlyphs" >–11</text>
<line x1="233.6" y1="205.5" x2="233.6" y2="208.1" stroke="#231f20" stroke-width="0.9" />
<text x="227.3" y="217.9" font-size="8.4" fill="#333" stroke="#333" stroke-width="0.22" textLength="12.6" lengthAdjust="spacingAndGlyphs" >–10</text>
<line x1="251.6" y1="205.5" x2="251.6" y2="208.1" stroke="#231f20" stroke-width="0.9" />
<text x="247.4" y="217.9" font-size="8.4" fill="#333" stroke="#333" stroke-width="0.22" textLength="8.4" lengthAdjust="spacingAndGlyphs" >–9</text>
<line x1="269.6" y1="205.5" x2="269.6" y2="208.1" stroke="#231f20" stroke-width="0.9" />
<text x="265.4" y="217.9" font-size="8.4" fill="#333" stroke="#333" stroke-width="0.22" textLength="8.4" lengthAdjust="spacingAndGlyphs" >–8</text>
<line x1="287.6" y1="205.5" x2="287.6" y2="208.1" stroke="#231f20" stroke-width="0.9" />
<text x="283.4" y="217.9" font-size="8.4" fill="#333" stroke="#333" stroke-width="0.22" textLength="8.4" lengthAdjust="spacingAndGlyphs" >–7</text>
<text x="211.8" y="231.1" font-size="10" fill="#2a2a2a" stroke="#2a2a2a" stroke-width="0.22" textLength="44.6" lengthAdjust="spacingAndGlyphs" >log [ADC] (M)</text>
<text transform="translate(15,201.55) rotate(-90)" font-size="8.8" fill="#333" stroke="#333" stroke-width="0.22" textLength="64.7" lengthAdjust="spacingAndGlyphs" >Percent cell viability</text>
<text x="42" y="194.2" font-size="7" fill="#62b764" font-weight="bold" textLength="57" lengthAdjust="spacing" >IC50 = 177.9 pM</text>
<text x="42" y="202.6" font-size="7" fill="#2c4f80" font-weight="bold" textLength="57" lengthAdjust="spacing" >IC50 = 416.5 pM</text>
<text x="181" y="194.2" font-size="7" fill="#62b764" font-weight="bold" textLength="57" lengthAdjust="spacing" >IC50 = 104.8 pM</text>
<text x="181" y="202.6" font-size="7" fill="#2c4f80" font-weight="bold" textLength="57" lengthAdjust="spacing" >IC50 = 207.7 pM</text>
<line x1="70.26" y1="160.4" x2="130.36" y2="160.4" stroke="#cf2245" stroke-width="1.3" />
<rect x="69.36" y="159" width="2.8" height="2.8" fill="#cf2245" />
<line x1="76.18" y1="155.8" x2="76.18" y2="160.3" stroke="#cf2245" stroke-width="0.7" />
<line x1="74.88" y1="155.8" x2="77.48" y2="155.8" stroke="#cf2245" stroke-width="0.7" />
<line x1="74.88" y1="160.3" x2="77.48" y2="160.3" stroke="#cf2245" stroke-width="0.7" />
<rect x="74.78" y="156.9" width="2.8" height="2.8" fill="#cf2245" />
<line x1="81.6" y1="155.3" x2="81.6" y2="160.8" stroke="#cf2245" stroke-width="0.7" />
<line x1="80.3" y1="155.3" x2="82.9" y2="155.3" stroke="#cf2245" stroke-width="0.7" />
<line x1="80.3" y1="160.8" x2="82.9" y2="160.8" stroke="#cf2245" stroke-width="0.7" />
<rect x="80.2" y="156.9" width="2.8" height="2.8" fill="#cf2245" />
<line x1="87.02" y1="147.3" x2="87.02" y2="152.8" stroke="#cf2245" stroke-width="0.7" />
<line x1="85.72" y1="147.3" x2="88.32" y2="147.3" stroke="#cf2245" stroke-width="0.7" />
<line x1="85.72" y1="152.8" x2="88.32" y2="152.8" stroke="#cf2245" stroke-width="0.7" />
<rect x="85.62" y="148.9" width="2.8" height="2.8" fill="#cf2245" />
<line x1="92.43" y1="153.1" x2="92.43" y2="157.1" stroke="#cf2245" stroke-width="0.7" />
<line x1="91.13" y1="153.1" x2="93.73" y2="153.1" stroke="#cf2245" stroke-width="0.7" />
<line x1="91.13" y1="157.1" x2="93.73" y2="157.1" stroke="#cf2245" stroke-width="0.7" />
<rect x="91.03" y="153.2" width="2.8" height="2.8" fill="#cf2245" />
<rect x="96.45" y="151.4" width="2.8" height="2.8" fill="#cf2245" />
<rect x="101.87" y="158.6" width="2.8" height="2.8" fill="#cf2245" />
<rect x="107.29" y="160.1" width="2.8" height="2.8" fill="#cf2245" />
<line x1="114.11" y1="161.8" x2="114.11" y2="166.8" stroke="#cf2245" stroke-width="0.7" />
<line x1="112.81" y1="161.8" x2="115.41" y2="161.8" stroke="#cf2245" stroke-width="0.7" />
<line x1="112.81" y1="166.8" x2="115.41" y2="166.8" stroke="#cf2245" stroke-width="0.7" />
<rect x="112.71" y="162.9" width="2.8" height="2.8" fill="#cf2245" />
<rect x="118.12" y="160.9" width="2.8" height="2.8" fill="#cf2245" />
<line x1="124.94" y1="162.1" x2="124.94" y2="167.1" stroke="#cf2245" stroke-width="0.7" />
<line x1="123.64" y1="162.1" x2="126.24" y2="162.1" stroke="#cf2245" stroke-width="0.7" />
<line x1="123.64" y1="167.1" x2="126.24" y2="167.1" stroke="#cf2245" stroke-width="0.7" />
<rect x="123.54" y="163.2" width="2.8" height="2.8" fill="#cf2245" />
<rect x="128.96" y="164" width="2.8" height="2.8" fill="#cf2245" />
<path d="M65.34 162.24 C65.52 162.24 66.07 162.24 66.43 162.24 C66.79 162.24 67.15 162.24 67.51 162.24 C67.87 162.24 68.23 162.24 68.59 162.24 C68.96 162.24 69.32 162.24 69.68 162.24 C70.04 162.24 70.4 162.24 70.76 162.24 C71.12 162.24 71.48 162.24 71.85 162.24 C72.21 162.24 72.57 162.24 72.93 162.24 C73.29 162.24 73.65 162.24 74.01 162.24 C74.37 162.24 74.74 162.24 75.1 162.24 C75.46 162.24 75.82 162.24 76.18 162.24 C76.54 162.24 76.9 162.24 77.26 162.24 C77.62 162.24 77.99 162.24 78.35 162.24 C78.71 162.24 79.07 162.24 79.43 162.24 C79.79 162.24 80.15 162.24 80.51 162.24 C80.88 162.24 81.24 162.24 81.6 162.25 C81.96 162.25 82.32 162.25 82.68 162.25 C83.04 162.25 83.4 162.26 83.77 162.26 C84.13 162.27 84.49 162.27 84.85 162.28 C85.21 162.29 85.57 162.3 85.93 162.31 C86.29 162.32 86.65 162.34 87.02 162.36 C87.38 162.38 87.74 162.4 88.1 162.43 C88.46 162.47 88.82 162.51 89.18 162.56 C89.54 162.62 89.91 162.68 90.27 162.77 C90.63 162.86 90.99 162.96 91.35 163.11 C91.71 163.25 92.07 163.41 92.43 163.65 C92.8 163.88 93.16 164.14 93.52 164.5 C93.88 164.87 94.24 165.28 94.6 165.83 C94.96 166.37 95.32 167 95.68 167.79 C96.05 168.58 96.41 169.5 96.77 170.57 C97.13 171.63 97.49 172.87 97.85 174.18 C98.21 175.5 98.57 177 98.94 178.46 C99.3 179.93 99.66 181.52 100.02 182.97 C100.38 184.42 100.74 185.89 101.1 187.17 C101.46 188.46 101.83 189.65 102.19 190.67 C102.55 191.7 102.91 192.57 103.27 193.33 C103.63 194.08 103.99 194.67 104.35 195.19 C104.71 195.71 105.08 196.09 105.44 196.44 C105.8 196.78 106.16 197.02 106.52 197.24 C106.88 197.46 107.24 197.61 107.6 197.74 C107.97 197.88 108.33 197.97 108.69 198.06 C109.05 198.14 109.41 198.2 109.77 198.25 C110.13 198.31 110.49 198.34 110.86 198.37 C111.22 198.4 111.58 198.42 111.94 198.44 C112.3 198.46 112.66 198.48 113.02 198.49 C113.38 198.5 113.74 198.51 114.11 198.52 C114.47 198.52 114.83 198.53 115.19 198.53 C115.55 198.54 115.91 198.54 116.27 198.54 C116.63 198.54 117 198.55 117.36 198.55 C117.72 198.55 118.08 198.55 118.44 198.55 C118.8 198.55 119.16 198.55 119.52 198.55 C119.89 198.55 120.25 198.55 120.61 198.55 C120.97 198.56 121.33 198.56 121.69 198.56 C122.05 198.56 122.41 198.56 122.77 198.56 C123.14 198.56 123.5 198.56 123.86 198.56 C124.22 198.56 124.58 198.56 124.94 198.56 C125.3 198.56 125.66 198.56 126.03 198.56 C126.39 198.56 126.75 198.56 127.11 198.56 C127.47 198.56 127.83 198.56 128.19 198.56 C128.55 198.56 128.92 198.56 129.28 198.56 C129.64 198.56 130.18 198.56 130.36 198.56" stroke="#3fae49" stroke-width="1.4" fill="none" />
<line x1="65.34" y1="148.24" x2="65.34" y2="161.24" stroke="#3fae49" stroke-width="0.7" />
<line x1="64.04" y1="148.24" x2="66.64" y2="148.24" stroke="#3fae49" stroke-width="0.7" />
<line x1="64.04" y1="161.24" x2="66.64" y2="161.24" stroke="#3fae49" stroke-width="0.7" />
<rect x="63.94" y="156.84" width="2.8" height="2.8" fill="#3fae49" />
<rect x="69.36" y="161.84" width="2.8" height="2.8" fill="#3fae49" />
<line x1="76.18" y1="163.74" x2="76.18" y2="174.74" stroke="#3fae49" stroke-width="0.7" />
<line x1="74.88" y1="163.74" x2="77.48" y2="163.74" stroke="#3fae49" stroke-width="0.7" />
<line x1="74.88" y1="174.74" x2="77.48" y2="174.74" stroke="#3fae49" stroke-width="0.7" />
<rect x="74.78" y="168.84" width="2.8" height="2.8" fill="#3fae49" />
<line x1="81.6" y1="162.25" x2="81.6" y2="168.75" stroke="#3fae49" stroke-width="0.7" />
<line x1="80.3" y1="162.25" x2="82.9" y2="162.25" stroke="#3fae49" stroke-width="0.7" />
<line x1="80.3" y1="168.75" x2="82.9" y2="168.75" stroke="#3fae49" stroke-width="0.7" />
<rect x="80.2" y="164.35" width="2.8" height="2.8" fill="#3fae49" />
<line x1="87.02" y1="148.36" x2="87.02" y2="157.36" stroke="#3fae49" stroke-width="0.7" />
<line x1="85.72" y1="148.36" x2="88.32" y2="148.36" stroke="#3fae49" stroke-width="0.7" />
<line x1="85.72" y1="157.36" x2="88.32" y2="157.36" stroke="#3fae49" stroke-width="0.7" />
<rect x="85.62" y="152.46" width="2.8" height="2.8" fill="#3fae49" />
<line x1="92.43" y1="161.65" x2="92.43" y2="167.65" stroke="#3fae49" stroke-width="0.7" />
<line x1="91.13" y1="161.65" x2="93.73" y2="161.65" stroke="#3fae49" stroke-width="0.7" />
<line x1="91.13" y1="167.65" x2="93.73" y2="167.65" stroke="#3fae49" stroke-width="0.7" />
<rect x="91.03" y="163.25" width="2.8" height="2.8" fill="#3fae49" />
<rect x="96.45" y="173.28" width="2.8" height="2.8" fill="#3fae49" />
<rect x="101.87" y="191.93" width="2.8" height="2.8" fill="#3fae49" />
<rect x="107.29" y="197.16" width="2.8" height="2.8" fill="#3fae49" />
<rect x="112.71" y="197.12" width="2.8" height="2.8" fill="#3fae49" />
<rect x="118.12" y="197.15" width="2.8" height="2.8" fill="#3fae49" />
<rect x="123.54" y="197.16" width="2.8" height="2.8" fill="#3fae49" />
<rect x="128.96" y="197.16" width="2.8" height="2.8" fill="#3fae49" />
<path d="M65.34 162.24 C65.52 162.24 66.07 162.24 66.43 162.24 C66.79 162.24 67.15 162.24 67.51 162.24 C67.87 162.24 68.23 162.24 68.59 162.24 C68.96 162.24 69.32 162.24 69.68 162.24 C70.04 162.24 70.4 162.24 70.76 162.24 C71.12 162.24 71.48 162.24 71.85 162.24 C72.21 162.24 72.57 162.24 72.93 162.24 C73.29 162.24 73.65 162.24 74.01 162.24 C74.37 162.24 74.74 162.24 75.1 162.24 C75.46 162.24 75.82 162.24 76.18 162.24 C76.54 162.24 76.9 162.24 77.26 162.24 C77.62 162.24 77.99 162.24 78.35 162.24 C78.71 162.24 79.07 162.24 79.43 162.24 C79.79 162.24 80.15 162.24 80.51 162.24 C80.88 162.24 81.24 162.24 81.6 162.24 C81.96 162.24 82.32 162.24 82.68 162.24 C83.04 162.24 83.4 162.24 83.77 162.24 C84.13 162.24 84.49 162.24 84.85 162.24 C85.21 162.24 85.57 162.24 85.93 162.24 C86.29 162.24 86.65 162.24 87.02 162.24 C87.38 162.24 87.74 162.24 88.1 162.24 C88.46 162.25 88.82 162.25 89.18 162.25 C89.54 162.25 89.91 162.26 90.27 162.26 C90.63 162.27 90.99 162.27 91.35 162.28 C91.71 162.28 92.07 162.29 92.43 162.3 C92.8 162.32 93.16 162.33 93.52 162.35 C93.88 162.37 94.24 162.39 94.6 162.42 C94.96 162.45 95.32 162.49 95.68 162.54 C96.05 162.6 96.41 162.65 96.77 162.74 C97.13 162.82 97.49 162.92 97.85 163.06 C98.21 163.2 98.57 163.35 98.94 163.57 C99.3 163.79 99.66 164.04 100.02 164.38 C100.38 164.73 100.74 165.12 101.1 165.65 C101.46 166.17 101.83 166.77 102.19 167.53 C102.55 168.3 102.91 169.18 103.27 170.22 C103.63 171.26 103.99 172.47 104.35 173.77 C104.71 175.07 105.08 176.56 105.44 178.04 C105.8 179.51 106.16 181.12 106.52 182.61 C106.88 184.09 107.24 185.61 107.6 186.95 C107.97 188.28 108.33 189.54 108.69 190.62 C109.05 191.7 109.41 192.63 109.77 193.44 C110.13 194.24 110.49 194.88 110.86 195.43 C111.22 195.99 111.58 196.41 111.94 196.78 C112.3 197.15 112.66 197.41 113.02 197.65 C113.38 197.89 113.74 198.05 114.11 198.2 C114.47 198.35 114.83 198.45 115.19 198.54 C115.55 198.63 115.91 198.7 116.27 198.75 C116.63 198.81 117 198.85 117.36 198.88 C117.72 198.92 118.08 198.94 118.44 198.96 C118.8 198.98 119.16 199 119.52 199.01 C119.89 199.02 120.25 199.03 120.61 199.04 C120.97 199.05 121.33 199.05 121.69 199.06 C122.05 199.06 122.41 199.06 122.77 199.07 C123.14 199.07 123.5 199.07 123.86 199.07 C124.22 199.07 124.58 199.08 124.94 199.08 C125.3 199.08 125.66 199.08 126.03 199.08 C126.39 199.08 126.75 199.08 127.11 199.08 C127.47 199.08 127.83 199.08 128.19 199.08 C128.55 199.08 128.92 199.08 129.28 199.08 C129.64 199.08 130.18 199.08 130.36 199.08" stroke="#1b4a7c" stroke-width="1.5" fill="none" />
<line x1="65.34" y1="162.74" x2="65.34" y2="169.04" stroke="#1b4a7c" stroke-width="0.7" />
<line x1="64.04" y1="162.74" x2="66.64" y2="162.74" stroke="#1b4a7c" stroke-width="0.7" />
<line x1="64.04" y1="169.04" x2="66.64" y2="169.04" stroke="#1b4a7c" stroke-width="0.7" />
<path d="M65.34 164.09 L66.84 167.09 L63.84 167.09 Z" stroke="none" stroke-width="1" fill="#1b4a7c" />
<line x1="70.76" y1="163.24" x2="70.76" y2="168.24" stroke="#1b4a7c" stroke-width="0.7" />
<line x1="69.46" y1="163.24" x2="72.06" y2="163.24" stroke="#1b4a7c" stroke-width="0.7" />
<line x1="69.46" y1="168.24" x2="72.06" y2="168.24" stroke="#1b4a7c" stroke-width="0.7" />
<path d="M70.76 164.09 L72.26 167.09 L69.26 167.09 Z" stroke="none" stroke-width="1" fill="#1b4a7c" />
<path d="M76.18 161.09 L77.68 164.09 L74.68 164.09 Z" stroke="none" stroke-width="1" fill="#1b4a7c" />
<path d="M81.6 161.09 L83.1 164.09 L80.1 164.09 Z" stroke="none" stroke-width="1" fill="#1b4a7c" />
<line x1="87.02" y1="159.24" x2="87.02" y2="164.74" stroke="#1b4a7c" stroke-width="0.7" />
<line x1="85.72" y1="159.24" x2="88.32" y2="159.24" stroke="#1b4a7c" stroke-width="0.7" />
<line x1="85.72" y1="164.74" x2="88.32" y2="164.74" stroke="#1b4a7c" stroke-width="0.7" />
<path d="M87.02 160.59 L88.52 163.59 L85.52 163.59 Z" stroke="none" stroke-width="1" fill="#1b4a7c" />
<path d="M92.43 160.65 L93.93 163.65 L90.93 163.65 Z" stroke="none" stroke-width="1" fill="#1b4a7c" />
<path d="M97.85 161.91 L99.35 164.91 L96.35 164.91 Z" stroke="none" stroke-width="1" fill="#1b4a7c" />
<path d="M103.27 169.07 L104.77 172.07 L101.77 172.07 Z" stroke="none" stroke-width="1" fill="#1b4a7c" />
<path d="M108.69 188.47 L110.19 191.47 L107.19 191.47 Z" stroke="none" stroke-width="1" fill="#1b4a7c" />
<path d="M114.11 196.55 L115.61 199.55 L112.61 199.55 Z" stroke="none" stroke-width="1" fill="#1b4a7c" />
<path d="M119.52 197.66 L121.02 200.66 L118.02 200.66 Z" stroke="none" stroke-width="1" fill="#1b4a7c" />
<path d="M124.94 197.93 L126.44 200.93 L123.44 200.93 Z" stroke="none" stroke-width="1" fill="#1b4a7c" />
<path d="M130.36 197.93 L131.86 200.93 L128.86 200.93 Z" stroke="none" stroke-width="1" fill="#1b4a7c" />
<line x1="204.44" y1="153" x2="269.96" y2="153" stroke="#cf2245" stroke-width="1.3" />
<rect x="203.54" y="151.6" width="2.8" height="2.8" fill="#cf2245" />
<rect x="208.96" y="151.6" width="2.8" height="2.8" fill="#cf2245" />
<rect x="214.38" y="151.2" width="2.8" height="2.8" fill="#cf2245" />
<rect x="219.8" y="151.2" width="2.8" height="2.8" fill="#cf2245" />
<line x1="226.62" y1="149.7" x2="226.62" y2="154.7" stroke="#cf2245" stroke-width="0.7" />
<line x1="225.32" y1="149.7" x2="227.92" y2="149.7" stroke="#cf2245" stroke-width="0.7" />
<line x1="225.32" y1="154.7" x2="227.92" y2="154.7" stroke="#cf2245" stroke-width="0.7" />
<rect x="225.22" y="150.8" width="2.8" height="2.8" fill="#cf2245" />
<rect x="230.63" y="151.2" width="2.8" height="2.8" fill="#cf2245" />
<line x1="237.45" y1="142.6" x2="237.45" y2="148.6" stroke="#cf2245" stroke-width="0.7" />
<line x1="236.15" y1="142.6" x2="238.75" y2="142.6" stroke="#cf2245" stroke-width="0.7" />
<line x1="236.15" y1="148.6" x2="238.75" y2="148.6" stroke="#cf2245" stroke-width="0.7" />
<rect x="236.05" y="144.2" width="2.8" height="2.8" fill="#cf2245" />
<rect x="241.47" y="151" width="2.8" height="2.8" fill="#cf2245" />
<rect x="246.89" y="150.2" width="2.8" height="2.8" fill="#cf2245" />
<line x1="253.71" y1="150.1" x2="253.71" y2="155.6" stroke="#cf2245" stroke-width="0.7" />
<line x1="252.41" y1="150.1" x2="255.01" y2="150.1" stroke="#cf2245" stroke-width="0.7" />
<line x1="252.41" y1="155.6" x2="255.01" y2="155.6" stroke="#cf2245" stroke-width="0.7" />
<rect x="252.31" y="151.2" width="2.8" height="2.8" fill="#cf2245" />
<line x1="259.12" y1="150.1" x2="259.12" y2="155.6" stroke="#cf2245" stroke-width="0.7" />
<line x1="257.82" y1="150.1" x2="260.42" y2="150.1" stroke="#cf2245" stroke-width="0.7" />
<line x1="257.82" y1="155.6" x2="260.42" y2="155.6" stroke="#cf2245" stroke-width="0.7" />
<rect x="257.72" y="151.2" width="2.8" height="2.8" fill="#cf2245" />
<line x1="264.54" y1="154" x2="264.54" y2="160" stroke="#cf2245" stroke-width="0.7" />
<line x1="263.24" y1="154" x2="265.84" y2="154" stroke="#cf2245" stroke-width="0.7" />
<line x1="263.24" y1="160" x2="265.84" y2="160" stroke="#cf2245" stroke-width="0.7" />
<rect x="263.14" y="155.6" width="2.8" height="2.8" fill="#cf2245" />
<line x1="269.96" y1="152.6" x2="269.96" y2="158.6" stroke="#cf2245" stroke-width="0.7" />
<line x1="268.66" y1="152.6" x2="271.26" y2="152.6" stroke="#cf2245" stroke-width="0.7" />
<line x1="268.66" y1="158.6" x2="271.26" y2="158.6" stroke="#cf2245" stroke-width="0.7" />
<rect x="268.56" y="154.2" width="2.8" height="2.8" fill="#cf2245" />
<path d="M204.94 157.52 C205.12 157.52 205.67 157.53 206.03 157.53 C206.39 157.53 206.75 157.54 207.11 157.54 C207.47 157.54 207.83 157.55 208.19 157.55 C208.56 157.56 208.92 157.56 209.28 157.57 C209.64 157.58 210 157.58 210.36 157.59 C210.72 157.6 211.08 157.61 211.45 157.62 C211.81 157.63 212.17 157.65 212.53 157.66 C212.89 157.68 213.25 157.7 213.61 157.72 C213.97 157.74 214.34 157.76 214.7 157.79 C215.06 157.81 215.42 157.84 215.78 157.88 C216.14 157.91 216.5 157.95 216.86 158 C217.22 158.04 217.59 158.09 217.95 158.15 C218.31 158.21 218.67 158.28 219.03 158.36 C219.39 158.43 219.75 158.52 220.11 158.62 C220.48 158.73 220.84 158.84 221.2 158.97 C221.56 159.1 221.92 159.25 222.28 159.42 C222.64 159.59 223 159.77 223.37 159.99 C223.73 160.21 224.09 160.45 224.45 160.72 C224.81 161 225.17 161.3 225.53 161.65 C225.89 161.99 226.25 162.37 226.62 162.8 C226.98 163.23 227.34 163.69 227.7 164.21 C228.06 164.73 228.42 165.29 228.78 165.9 C229.14 166.52 229.51 167.18 229.87 167.89 C230.23 168.6 230.59 169.36 230.95 170.16 C231.31 170.96 231.67 171.8 232.03 172.67 C232.4 173.54 232.76 174.45 233.12 175.35 C233.48 176.26 233.84 177.2 234.2 178.12 C234.56 179.04 234.92 179.97 235.28 180.86 C235.65 181.75 236.01 182.64 236.37 183.48 C236.73 184.31 237.09 185.13 237.45 185.89 C237.81 186.65 238.17 187.37 238.54 188.03 C238.9 188.7 239.26 189.32 239.62 189.89 C239.98 190.46 240.34 190.98 240.7 191.45 C241.06 191.93 241.43 192.36 241.79 192.74 C242.15 193.13 242.51 193.48 242.87 193.79 C243.23 194.1 243.59 194.38 243.95 194.62 C244.31 194.87 244.68 195.09 245.04 195.28 C245.4 195.48 245.76 195.65 246.12 195.8 C246.48 195.95 246.84 196.08 247.2 196.2 C247.57 196.32 247.93 196.42 248.29 196.51 C248.65 196.6 249.01 196.67 249.37 196.74 C249.73 196.81 250.09 196.87 250.46 196.92 C250.82 196.98 251.18 197.02 251.54 197.06 C251.9 197.1 252.26 197.14 252.62 197.17 C252.98 197.2 253.34 197.23 253.71 197.25 C254.07 197.27 254.43 197.29 254.79 197.31 C255.15 197.33 255.51 197.34 255.87 197.36 C256.23 197.37 256.6 197.38 256.96 197.39 C257.32 197.4 257.68 197.41 258.04 197.42 C258.4 197.43 258.76 197.43 259.12 197.44 C259.49 197.45 259.85 197.45 260.21 197.46 C260.57 197.46 260.93 197.46 261.29 197.47 C261.65 197.47 262.01 197.47 262.37 197.48 C262.74 197.48 263.1 197.48 263.46 197.48 C263.82 197.48 264.18 197.49 264.54 197.49 C264.9 197.49 265.26 197.49 265.63 197.49 C265.99 197.49 266.35 197.49 266.71 197.49 C267.07 197.5 267.43 197.5 267.79 197.5 C268.15 197.5 268.52 197.5 268.88 197.5 C269.24 197.5 269.78 197.5 269.96 197.5" stroke="#3fae49" stroke-width="1.4" fill="none" />
<line x1="204.94" y1="154.52" x2="204.94" y2="161.52" stroke="#3fae49" stroke-width="0.7" />
<line x1="203.64" y1="154.52" x2="206.24" y2="154.52" stroke="#3fae49" stroke-width="0.7" />
<line x1="203.64" y1="161.52" x2="206.24" y2="161.52" stroke="#3fae49" stroke-width="0.7" />
<rect x="203.54" y="156.62" width="2.8" height="2.8" fill="#3fae49" />
<rect x="208.96" y="157.69" width="2.8" height="2.8" fill="#3fae49" />
<line x1="215.78" y1="156.88" x2="215.78" y2="163.88" stroke="#3fae49" stroke-width="0.7" />
<line x1="214.48" y1="156.88" x2="217.08" y2="156.88" stroke="#3fae49" stroke-width="0.7" />
<line x1="214.48" y1="163.88" x2="217.08" y2="163.88" stroke="#3fae49" stroke-width="0.7" />
<rect x="214.38" y="158.98" width="2.8" height="2.8" fill="#3fae49" />
<rect x="219.8" y="158.57" width="2.8" height="2.8" fill="#3fae49" />
<rect x="225.22" y="161.4" width="2.8" height="2.8" fill="#3fae49" />
<line x1="232.03" y1="168.67" x2="232.03" y2="174.67" stroke="#3fae49" stroke-width="0.7" />
<line x1="230.73" y1="168.67" x2="233.33" y2="168.67" stroke="#3fae49" stroke-width="0.7" />
<line x1="230.73" y1="174.67" x2="233.33" y2="174.67" stroke="#3fae49" stroke-width="0.7" />
<rect x="230.63" y="170.27" width="2.8" height="2.8" fill="#3fae49" />
<line x1="237.45" y1="183.89" x2="237.45" y2="187.89" stroke="#3fae49" stroke-width="0.7" />
<line x1="236.15" y1="183.89" x2="238.75" y2="183.89" stroke="#3fae49" stroke-width="0.7" />
<line x1="236.15" y1="187.89" x2="238.75" y2="187.89" stroke="#3fae49" stroke-width="0.7" />
<rect x="236.05" y="184.49" width="2.8" height="2.8" fill="#3fae49" />
<line x1="242.87" y1="191.79" x2="242.87" y2="195.79" stroke="#3fae49" stroke-width="0.7" />
<line x1="241.57" y1="191.79" x2="244.17" y2="191.79" stroke="#3fae49" stroke-width="0.7" />
<line x1="241.57" y1="195.79" x2="244.17" y2="195.79" stroke="#3fae49" stroke-width="0.7" />
<rect x="241.47" y="192.39" width="2.8" height="2.8" fill="#3fae49" />
<rect x="246.89" y="196.11" width="2.8" height="2.8" fill="#3fae49" />
<rect x="252.31" y="195.85" width="2.8" height="2.8" fill="#3fae49" />
<rect x="257.72" y="196.04" width="2.8" height="2.8" fill="#3fae49" />
<rect x="263.14" y="196.09" width="2.8" height="2.8" fill="#3fae49" />
<rect x="268.56" y="196.6" width="2.8" height="2.8" fill="#3fae49" />
<path d="M204.94 155.41 C205.12 155.41 205.67 155.41 206.03 155.41 C206.39 155.41 206.75 155.41 207.11 155.42 C207.47 155.42 207.83 155.42 208.19 155.42 C208.56 155.43 208.92 155.43 209.28 155.43 C209.64 155.44 210 155.44 210.36 155.44 C210.72 155.45 211.08 155.45 211.45 155.46 C211.81 155.46 212.17 155.47 212.53 155.48 C212.89 155.48 213.25 155.49 213.61 155.5 C213.97 155.51 214.34 155.52 214.7 155.53 C215.06 155.54 215.42 155.56 215.78 155.57 C216.14 155.59 216.5 155.6 216.86 155.62 C217.22 155.64 217.59 155.66 217.95 155.69 C218.31 155.71 218.67 155.74 219.03 155.77 C219.39 155.8 219.75 155.84 220.11 155.88 C220.48 155.92 220.84 155.96 221.2 156.01 C221.56 156.06 221.92 156.12 222.28 156.19 C222.64 156.25 223 156.32 223.37 156.41 C223.73 156.49 224.09 156.58 224.45 156.68 C224.81 156.79 225.17 156.9 225.53 157.04 C225.89 157.17 226.25 157.31 226.62 157.48 C226.98 157.64 227.34 157.82 227.7 158.03 C228.06 158.24 228.42 158.46 228.78 158.72 C229.14 158.97 229.51 159.25 229.87 159.57 C230.23 159.88 230.59 160.22 230.95 160.6 C231.31 160.98 231.67 161.39 232.03 161.85 C232.4 162.3 232.76 162.79 233.12 163.32 C233.48 163.86 233.84 164.43 234.2 165.05 C234.56 165.66 234.92 166.32 235.28 167.01 C235.65 167.71 236.01 168.44 236.37 169.21 C236.73 169.97 237.09 170.77 237.45 171.59 C237.81 172.4 238.17 173.25 238.54 174.1 C238.9 174.95 239.26 175.82 239.62 176.67 C239.98 177.52 240.34 178.39 240.7 179.22 C241.06 180.06 241.43 180.89 241.79 181.68 C242.15 182.47 242.51 183.25 242.87 183.98 C243.23 184.71 243.59 185.41 243.95 186.06 C244.31 186.72 244.68 187.34 245.04 187.91 C245.4 188.49 245.76 189.02 246.12 189.52 C246.48 190.01 246.84 190.47 247.2 190.88 C247.57 191.3 247.93 191.68 248.29 192.03 C248.65 192.37 249.01 192.68 249.37 192.97 C249.73 193.25 250.09 193.5 250.46 193.73 C250.82 193.97 251.18 194.17 251.54 194.36 C251.9 194.54 252.26 194.7 252.62 194.85 C252.98 195 253.34 195.13 253.71 195.25 C254.07 195.37 254.43 195.47 254.79 195.56 C255.15 195.66 255.51 195.74 255.87 195.81 C256.23 195.89 256.6 195.95 256.96 196.01 C257.32 196.07 257.68 196.12 258.04 196.16 C258.4 196.21 258.76 196.25 259.12 196.28 C259.49 196.32 259.85 196.35 260.21 196.38 C260.57 196.41 260.93 196.43 261.29 196.45 C261.65 196.47 262.01 196.49 262.37 196.51 C262.74 196.53 263.1 196.54 263.46 196.55 C263.82 196.57 264.18 196.58 264.54 196.59 C264.9 196.6 265.26 196.61 265.63 196.62 C265.99 196.63 266.35 196.63 266.71 196.64 C267.07 196.64 267.43 196.65 267.79 196.66 C268.15 196.66 268.52 196.66 268.88 196.67 C269.24 196.67 269.78 196.68 269.96 196.68" stroke="#1b4a7c" stroke-width="1.5" fill="none" />
<line x1="204.94" y1="151.91" x2="204.94" y2="159.91" stroke="#1b4a7c" stroke-width="0.7" />
<line x1="203.64" y1="151.91" x2="206.24" y2="151.91" stroke="#1b4a7c" stroke-width="0.7" />
<line x1="203.64" y1="159.91" x2="206.24" y2="159.91" stroke="#1b4a7c" stroke-width="0.7" />
<path d="M204.94 154.26 L206.44 157.26 L203.44 157.26 Z" stroke="none" stroke-width="1" fill="#1b4a7c" />
<line x1="210.36" y1="147.44" x2="210.36" y2="160.44" stroke="#1b4a7c" stroke-width="0.7" />
<line x1="209.06" y1="147.44" x2="211.66" y2="147.44" stroke="#1b4a7c" stroke-width="0.7" />
<line x1="209.06" y1="160.44" x2="211.66" y2="160.44" stroke="#1b4a7c" stroke-width="0.7" />
<path d="M210.36 154.79 L211.86 157.79 L208.86 157.79 Z" stroke="none" stroke-width="1" fill="#1b4a7c" />
<line x1="215.78" y1="151.57" x2="215.78" y2="159.57" stroke="#1b4a7c" stroke-width="0.7" />
<line x1="214.48" y1="151.57" x2="217.08" y2="151.57" stroke="#1b4a7c" stroke-width="0.7" />
<line x1="214.48" y1="159.57" x2="217.08" y2="159.57" stroke="#1b4a7c" stroke-width="0.7" />
<path d="M215.78 153.92 L217.28 156.92 L214.28 156.92 Z" stroke="none" stroke-width="1" fill="#1b4a7c" />
<line x1="221.2" y1="152.01" x2="221.2" y2="160.01" stroke="#1b4a7c" stroke-width="0.7" />
<line x1="219.9" y1="152.01" x2="222.5" y2="152.01" stroke="#1b4a7c" stroke-width="0.7" />
<line x1="219.9" y1="160.01" x2="222.5" y2="160.01" stroke="#1b4a7c" stroke-width="0.7" />
<path d="M221.2 154.36 L222.7 157.36 L219.7 157.36 Z" stroke="none" stroke-width="1" fill="#1b4a7c" />
<line x1="226.62" y1="152.48" x2="226.62" y2="161.98" stroke="#1b4a7c" stroke-width="0.7" />
<line x1="225.32" y1="152.48" x2="227.92" y2="152.48" stroke="#1b4a7c" stroke-width="0.7" />
<line x1="225.32" y1="161.98" x2="227.92" y2="161.98" stroke="#1b4a7c" stroke-width="0.7" />
<path d="M226.62 155.83 L228.12 158.83 L225.12 158.83 Z" stroke="none" stroke-width="1" fill="#1b4a7c" />
<line x1="232.03" y1="157.35" x2="232.03" y2="166.35" stroke="#1b4a7c" stroke-width="0.7" />
<line x1="230.73" y1="157.35" x2="233.33" y2="157.35" stroke="#1b4a7c" stroke-width="0.7" />
<line x1="230.73" y1="166.35" x2="233.33" y2="166.35" stroke="#1b4a7c" stroke-width="0.7" />
<path d="M232.03 160.2 L233.53 163.2 L230.53 163.2 Z" stroke="none" stroke-width="1" fill="#1b4a7c" />
<line x1="237.45" y1="169.09" x2="237.45" y2="174.09" stroke="#1b4a7c" stroke-width="0.7" />
<line x1="236.15" y1="169.09" x2="238.75" y2="169.09" stroke="#1b4a7c" stroke-width="0.7" />
<line x1="236.15" y1="174.09" x2="238.75" y2="174.09" stroke="#1b4a7c" stroke-width="0.7" />
<path d="M237.45 169.94 L238.95 172.94 L235.95 172.94 Z" stroke="none" stroke-width="1" fill="#1b4a7c" />
<path d="M242.87 182.83 L244.37 185.83 L241.37 185.83 Z" stroke="none" stroke-width="1" fill="#1b4a7c" />
<path d="M248.29 191.88 L249.79 194.88 L246.79 194.88 Z" stroke="none" stroke-width="1" fill="#1b4a7c" />
<line x1="253.71" y1="193.25" x2="253.71" y2="197.25" stroke="#1b4a7c" stroke-width="0.7" />
<line x1="252.41" y1="193.25" x2="255.01" y2="193.25" stroke="#1b4a7c" stroke-width="0.7" />
<line x1="252.41" y1="197.25" x2="255.01" y2="197.25" stroke="#1b4a7c" stroke-width="0.7" />
<path d="M253.71 193.6 L255.21 196.6 L252.21 196.6 Z" stroke="none" stroke-width="1" fill="#1b4a7c" />
<line x1="259.12" y1="194.28" x2="259.12" y2="198.28" stroke="#1b4a7c" stroke-width="0.7" />
<line x1="257.82" y1="194.28" x2="260.42" y2="194.28" stroke="#1b4a7c" stroke-width="0.7" />
<line x1="257.82" y1="198.28" x2="260.42" y2="198.28" stroke="#1b4a7c" stroke-width="0.7" />
<path d="M259.12 194.63 L260.62 197.63 L257.62 197.63 Z" stroke="none" stroke-width="1" fill="#1b4a7c" />
<path d="M264.54 195.94 L266.04 198.94 L263.04 198.94 Z" stroke="none" stroke-width="1" fill="#1b4a7c" />
<path d="M269.96 196.03 L271.46 199.03 L268.46 199.03 Z" stroke="none" stroke-width="1" fill="#1b4a7c" />
<rect x="253.6" y="168" width="2.8" height="2.8" fill="#3fae49" />
<text x="260.4" y="171.8" font-size="6.9" fill="#333" stroke="#333" stroke-width="0.25" textLength="39.6" lengthAdjust="spacingAndGlyphs" >5E3-vedotin</text>
<path d="M255 174.9 L256.55 178 L253.45 178 Z" stroke="none" stroke-width="1" fill="#1b4a7c" />
<text x="260.4" y="179.1" font-size="7" fill="#333" stroke="#333" stroke-width="0.25" textLength="48.6" lengthAdjust="spacingAndGlyphs" >5E3-emtansine</text>
<circle cx="255" cy="184.2" r="1.4" fill="#cf2245"/>
<text x="260.4" y="186.6" font-size="7" fill="#333" stroke="#333" stroke-width="0.25" textLength="23.6" lengthAdjust="spacingAndGlyphs" >Vehicle</text>
<text x="319.6" y="125.6" font-size="10.4" fill="#111" stroke="#111" stroke-width="0.25" font-weight="bold" >D</text>
<line x1="358.5" y1="128.4" x2="358.5" y2="205.8" stroke="#231f20" stroke-width="1" />
<line x1="355.7" y1="205.3" x2="358.5" y2="205.3" stroke="#231f20" stroke-width="0.9" />
<text x="349.9" y="208.3" font-size="8.4" fill="#333" stroke="#333" stroke-width="0.22" textLength="4.1" lengthAdjust="spacingAndGlyphs" >0</text>
<line x1="355.7" y1="190.64" x2="358.5" y2="190.64" stroke="#231f20" stroke-width="0.9" />
<text x="345.8" y="193.64" font-size="8.4" fill="#333" stroke="#333" stroke-width="0.22" textLength="8.2" lengthAdjust="spacingAndGlyphs" >20</text>
<line x1="355.7" y1="175.98" x2="358.5" y2="175.98" stroke="#231f20" stroke-width="0.9" />
<text x="345.8" y="178.98" font-size="8.4" fill="#333" stroke="#333" stroke-width="0.22" textLength="8.2" lengthAdjust="spacingAndGlyphs" >40</text>
<line x1="355.7" y1="161.32" x2="358.5" y2="161.32" stroke="#231f20" stroke-width="0.9" />
<text x="345.8" y="164.32" font-size="8.4" fill="#333" stroke="#333" stroke-width="0.22" textLength="8.2" lengthAdjust="spacingAndGlyphs" >60</text>
<line x1="355.7" y1="146.66" x2="358.5" y2="146.66" stroke="#231f20" stroke-width="0.9" />
<text x="345.8" y="149.66" font-size="8.4" fill="#333" stroke="#333" stroke-width="0.22" textLength="8.2" lengthAdjust="spacingAndGlyphs" >80</text>
<line x1="355.7" y1="132" x2="358.5" y2="132" stroke="#231f20" stroke-width="0.9" />
<text x="341.7" y="135" font-size="8.4" fill="#333" stroke="#333" stroke-width="0.22" textLength="12.3" lengthAdjust="spacingAndGlyphs" >100</text>
<line x1="358" y1="205.3" x2="514" y2="205.3" stroke="#231f20" stroke-width="1" />
<text transform="translate(327,192) rotate(-90)" font-size="8.3" fill="#333" stroke="#333" stroke-width="0.22" textLength="42" lengthAdjust="spacingAndGlyphs" >Caspase 3/7</text>
<text transform="translate(335.6,192.8) rotate(-90)" font-size="8.3" fill="#333" stroke="#333" stroke-width="0.22" textLength="48" lengthAdjust="spacingAndGlyphs" >active cells (%)</text>
<line x1="368.15" y1="197.2" x2="368.15" y2="194.5" stroke="#333" stroke-width="0.7" />
<line x1="366.35" y1="194.5" x2="369.95" y2="194.5" stroke="#333" stroke-width="0.8" />
<rect x="364" y="197.2" width="8.3" height="7.8" fill="#cf1237" />
<line x1="381.7" y1="198" x2="381.7" y2="197" stroke="#333" stroke-width="0.7" />
<line x1="379.9" y1="197" x2="383.5" y2="197" stroke="#333" stroke-width="0.8" />
<rect x="377.5" y="198" width="8.4" height="7" fill="#1b5a8e" />
<line x1="395.2" y1="195" x2="395.2" y2="192.8" stroke="#333" stroke-width="0.7" />
<line x1="393.4" y1="192.8" x2="397" y2="192.8" stroke="#333" stroke-width="0.8" />
<rect x="391" y="195" width="8.4" height="10" fill="#43ad4f" />
<line x1="408.7" y1="142" x2="408.7" y2="139.6" stroke="#333" stroke-width="0.7" />
<line x1="406.9" y1="139.6" x2="410.5" y2="139.6" stroke="#333" stroke-width="0.8" />
<rect x="404.4" y="142" width="8.6" height="63" fill="#5e2471" />
<line x1="422.2" y1="137" x2="422.2" y2="136" stroke="#333" stroke-width="0.7" />
<line x1="420.4" y1="136" x2="424" y2="136" stroke="#333" stroke-width="0.8" />
<rect x="418" y="137" width="8.4" height="68" fill="#f7950f" />
<line x1="449.75" y1="193" x2="449.75" y2="190.4" stroke="#333" stroke-width="0.7" />
<line x1="447.95" y1="190.4" x2="451.55" y2="190.4" stroke="#333" stroke-width="0.8" />
<rect x="445.6" y="193" width="8.3" height="12" fill="#cf1237" />
<line x1="463.2" y1="195.6" x2="463.2" y2="191.6" stroke="#333" stroke-width="0.7" />
<line x1="461.4" y1="191.6" x2="465" y2="191.6" stroke="#333" stroke-width="0.8" />
<rect x="459" y="195.6" width="8.4" height="9.4" fill="#1b5a8e" />
<line x1="476.6" y1="194.4" x2="476.6" y2="191.6" stroke="#333" stroke-width="0.7" />
<line x1="474.8" y1="191.6" x2="478.4" y2="191.6" stroke="#333" stroke-width="0.8" />
<rect x="472.4" y="194.4" width="8.4" height="10.6" fill="#43ad4f" />
<line x1="490.2" y1="158" x2="490.2" y2="153.6" stroke="#333" stroke-width="0.7" />
<line x1="488.4" y1="153.6" x2="492" y2="153.6" stroke="#333" stroke-width="0.8" />
<rect x="486" y="158" width="8.4" height="47" fill="#5e2471" />
<line x1="503.8" y1="147.6" x2="503.8" y2="146.4" stroke="#333" stroke-width="0.7" />
<line x1="502" y1="146.4" x2="505.6" y2="146.4" stroke="#333" stroke-width="0.8" />
<rect x="499.6" y="147.6" width="8.4" height="57.4" fill="#f7950f" />
<text x="377.6" y="214" font-size="7.2" fill="#222" stroke="#222" stroke-width="0.22" textLength="34.8" lengthAdjust="spacingAndGlyphs" >NCI-H929</text>
<text x="463.6" y="214.6" font-size="7.2" fill="#222" stroke="#222" stroke-width="0.22" textLength="25.4" lengthAdjust="spacingAndGlyphs" >MM1.S</text>
<rect x="358.9" y="220.7" width="4.4" height="4.4" fill="#cf1237" />
<text x="367" y="225.4" font-size="6.9" fill="#333" stroke="#333" stroke-width="0.22" textLength="20.5" lengthAdjust="spacingAndGlyphs" >Media</text>
<rect x="395.5" y="220.7" width="4.4" height="4.4" fill="#1b5a8e" />
<text x="401.5" y="225.4" font-size="6.9" fill="#333" stroke="#333" stroke-width="0.22" textLength="23.5" lengthAdjust="spacingAndGlyphs" >Vehicle</text>
<rect x="433.3" y="220.7" width="4.4" height="4.4" fill="#43ad4f" />
<text x="440.4" y="225.4" font-size="6.9" fill="#333" stroke="#333" stroke-width="0.22" textLength="40.6" lengthAdjust="spacingAndGlyphs" >TRA-vedotin</text>
<rect x="358.9" y="228.7" width="4.4" height="4.4" fill="#5e2471" />
<text x="367" y="233.4" font-size="6.9" fill="#333" stroke="#333" stroke-width="0.22" textLength="39" lengthAdjust="spacingAndGlyphs" >5E3-vedotin</text>
<rect x="413.2" y="228.7" width="4.4" height="4.4" fill="#f7950f" />
<text x="419.6" y="233.4" font-size="6.9" fill="#333" stroke="#333" stroke-width="0.22" textLength="13.4" lengthAdjust="spacingAndGlyphs" >BTZ</text>
<text x="6.8" y="254" font-size="10.4" fill="#111" stroke="#111" stroke-width="0.25" font-weight="bold" >E</text>
<line x1="51.5" y1="257.6" x2="51.5" y2="334.3" stroke="#231f20" stroke-width="1" />
<line x1="48.7" y1="333.8" x2="51.5" y2="333.8" stroke="#231f20" stroke-width="0.9" />
<text x="40.6" y="336.8" font-size="8.4" fill="#333" stroke="#333" stroke-width="0.22" textLength="4.2" lengthAdjust="spacingAndGlyphs" >0</text>
<line x1="48.7" y1="321.73" x2="51.5" y2="321.73" stroke="#231f20" stroke-width="0.9" />
<text x="36.4" y="324.73" font-size="8.4" fill="#333" stroke="#333" stroke-width="0.22" textLength="8.4" lengthAdjust="spacingAndGlyphs" >20</text>
<line x1="48.7" y1="309.67" x2="51.5" y2="309.67" stroke="#231f20" stroke-width="0.9" />
<text x="36.4" y="312.67" font-size="8.4" fill="#333" stroke="#333" stroke-width="0.22" textLength="8.4" lengthAdjust="spacingAndGlyphs" >40</text>
<line x1="48.7" y1="297.6" x2="51.5" y2="297.6" stroke="#231f20" stroke-width="0.9" />
<text x="36.4" y="300.6" font-size="8.4" fill="#333" stroke="#333" stroke-width="0.22" textLength="8.4" lengthAdjust="spacingAndGlyphs" >60</text>
<line x1="48.7" y1="285.54" x2="51.5" y2="285.54" stroke="#231f20" stroke-width="0.9" />
<text x="36.4" y="288.54" font-size="8.4" fill="#333" stroke="#333" stroke-width="0.22" textLength="8.4" lengthAdjust="spacingAndGlyphs" >80</text>
<line x1="48.7" y1="273.47" x2="51.5" y2="273.47" stroke="#231f20" stroke-width="0.9" />
<text x="32.2" y="276.47" font-size="8.4" fill="#333" stroke="#333" stroke-width="0.22" textLength="12.6" lengthAdjust="spacingAndGlyphs" >100</text>
<line x1="48.7" y1="261.4" x2="51.5" y2="261.4" stroke="#231f20" stroke-width="0.9" />
<text x="32.2" y="264.4" font-size="8.4" fill="#333" stroke="#333" stroke-width="0.22" textLength="12.6" lengthAdjust="spacingAndGlyphs" >120</text>
<line x1="50.6" y1="333.8" x2="105.6" y2="333.8" stroke="#231f20" stroke-width="1" />
<line x1="66" y1="333.8" x2="66" y2="336.5" stroke="#231f20" stroke-width="0.9" />
<line x1="92.2" y1="333.8" x2="92.2" y2="336.5" stroke="#231f20" stroke-width="0.9" />
<text transform="translate(14.5,336.05) rotate(-90)" font-size="8.8" fill="#333" stroke="#333" stroke-width="0.22" textLength="71.7" lengthAdjust="spacingAndGlyphs" >Normalized cell count</text>
<text transform="translate(25,321.6) rotate(-90)" font-size="8.8" fill="#333" stroke="#333" stroke-width="0.22" textLength="49.6" lengthAdjust="spacingAndGlyphs" >(% of media)</text>
<line x1="60.9" y1="273.47" x2="60.9" y2="270.6" stroke="#333" stroke-width="0.8" />
<line x1="58.7" y1="270.6" x2="63.1" y2="270.6" stroke="#333" stroke-width="0.8" />
<rect x="56.4" y="273.47" width="9" height="60.33" fill="#cf1237" />
<line x1="71.5" y1="310.09" x2="71.5" y2="308.9" stroke="#333" stroke-width="0.8" />
<line x1="69.3" y1="308.9" x2="73.7" y2="308.9" stroke="#333" stroke-width="0.8" />
<rect x="66.9" y="310.09" width="9.2" height="23.71" fill="#1b5a8e" />
<line x1="87.25" y1="273.47" x2="87.25" y2="272.4" stroke="#333" stroke-width="0.8" />
<line x1="85.05" y1="272.4" x2="89.45" y2="272.4" stroke="#333" stroke-width="0.8" />
<rect x="82.8" y="273.47" width="8.9" height="60.33" fill="#cf1237" />
<line x1="97.55" y1="281.31" x2="97.55" y2="274.4" stroke="#333" stroke-width="0.8" />
<line x1="95.35" y1="274.4" x2="99.75" y2="274.4" stroke="#333" stroke-width="0.8" />
<rect x="93.1" y="281.31" width="8.9" height="52.49" fill="#1b5a8e" />
<text x="55.2" y="347" font-size="8.2" fill="#333" stroke="#333" stroke-width="0.22" textLength="19.6" lengthAdjust="spacingAndGlyphs" >–HS5</text>
<text x="82.8" y="347" font-size="8.2" fill="#333" stroke="#333" stroke-width="0.22" textLength="19.6" lengthAdjust="spacingAndGlyphs" >+HS5</text>
<rect x="47.4" y="353.6" width="4.2" height="4.2" fill="#cf1237" />
<text x="54.8" y="358.4" font-size="6.9" fill="#333" stroke="#333" stroke-width="0.22" textLength="22.2" lengthAdjust="spacingAndGlyphs" >Vehicle</text>
<rect x="84.2" y="353.6" width="4" height="4.2" fill="#1b5a8e" />
<text x="90.4" y="358.4" font-size="6.9" fill="#333" stroke="#333" stroke-width="0.22" textLength="18.6" lengthAdjust="spacingAndGlyphs" >DEXA</text>
<text x="115.3" y="254" font-size="10.4" fill="#111" stroke="#111" stroke-width="0.25" font-weight="bold" >F</text>
<line x1="155.5" y1="257.4" x2="155.5" y2="335.1" stroke="#231f20" stroke-width="1" />
<line x1="152.7" y1="334.6" x2="155.5" y2="334.6" stroke="#231f20" stroke-width="0.9" />
<text x="145.9" y="337.6" font-size="8.4" fill="#333" stroke="#333" stroke-width="0.22" textLength="4.1" lengthAdjust="spacingAndGlyphs" >0</text>
<line x1="152.7" y1="324.09" x2="155.5" y2="324.09" stroke="#231f20" stroke-width="0.9" />
<text x="141.8" y="327.09" font-size="8.4" fill="#333" stroke="#333" stroke-width="0.22" textLength="8.2" lengthAdjust="spacingAndGlyphs" >20</text>
<line x1="152.7" y1="313.57" x2="155.5" y2="313.57" stroke="#231f20" stroke-width="0.9" />
<text x="141.8" y="316.57" font-size="8.4" fill="#333" stroke="#333" stroke-width="0.22" textLength="8.2" lengthAdjust="spacingAndGlyphs" >40</text>
<line x1="152.7" y1="303.06" x2="155.5" y2="303.06" stroke="#231f20" stroke-width="0.9" />
<text x="141.8" y="306.06" font-size="8.4" fill="#333" stroke="#333" stroke-width="0.22" textLength="8.2" lengthAdjust="spacingAndGlyphs" >60</text>
<line x1="152.7" y1="292.54" x2="155.5" y2="292.54" stroke="#231f20" stroke-width="0.9" />
<text x="141.8" y="295.54" font-size="8.4" fill="#333" stroke="#333" stroke-width="0.22" textLength="8.2" lengthAdjust="spacingAndGlyphs" >80</text>
<line x1="152.7" y1="282.03" x2="155.5" y2="282.03" stroke="#231f20" stroke-width="0.9" />
<text x="137.7" y="285.03" font-size="8.4" fill="#333" stroke="#333" stroke-width="0.22" textLength="12.3" lengthAdjust="spacingAndGlyphs" >100</text>
<line x1="152.7" y1="271.52" x2="155.5" y2="271.52" stroke="#231f20" stroke-width="0.9" />
<text x="137.7" y="274.52" font-size="8.4" fill="#333" stroke="#333" stroke-width="0.22" textLength="12.3" lengthAdjust="spacingAndGlyphs" >120</text>
<line x1="152.7" y1="261" x2="155.5" y2="261" stroke="#231f20" stroke-width="0.9" />
<text x="137.7" y="264" font-size="8.4" fill="#333" stroke="#333" stroke-width="0.22" textLength="12.3" lengthAdjust="spacingAndGlyphs" >140</text>
<line x1="155.1" y1="334.5" x2="269.2" y2="334.5" stroke="#231f20" stroke-width="1" />
<line x1="155.6" y1="334.5" x2="155.6" y2="337.1" stroke="#231f20" stroke-width="0.9" />
<text x="149.3" y="346.1" font-size="8.4" fill="#333" stroke="#333" stroke-width="0.22" textLength="12.6" lengthAdjust="spacingAndGlyphs" >–13</text>
<line x1="174" y1="334.5" x2="174" y2="337.1" stroke="#231f20" stroke-width="0.9" />
<text x="167.7" y="346.1" font-size="8.4" fill="#333" stroke="#333" stroke-width="0.22" textLength="12.6" lengthAdjust="spacingAndGlyphs" >–12</text>
<line x1="192.4" y1="334.5" x2="192.4" y2="337.1" stroke="#231f20" stroke-width="0.9" />
<text x="186.1" y="346.1" font-size="8.4" fill="#333" stroke="#333" stroke-width="0.22" textLength="12.6" lengthAdjust="spacingAndGlyphs" >–11</text>
<line x1="210.8" y1="334.5" x2="210.8" y2="337.1" stroke="#231f20" stroke-width="0.9" />
<text x="204.5" y="346.1" font-size="8.4" fill="#333" stroke="#333" stroke-width="0.22" textLength="12.6" lengthAdjust="spacingAndGlyphs" >–10</text>
<line x1="229.2" y1="334.5" x2="229.2" y2="337.1" stroke="#231f20" stroke-width="0.9" />
<text x="225" y="346.1" font-size="8.4" fill="#333" stroke="#333" stroke-width="0.22" textLength="8.4" lengthAdjust="spacingAndGlyphs" >–9</text>
<line x1="247.6" y1="334.5" x2="247.6" y2="337.1" stroke="#231f20" stroke-width="0.9" />
<text x="243.4" y="346.1" font-size="8.4" fill="#333" stroke="#333" stroke-width="0.22" textLength="8.4" lengthAdjust="spacingAndGlyphs" >–8</text>
<line x1="266" y1="334.5" x2="266" y2="337.1" stroke="#231f20" stroke-width="0.9" />
<text x="261.8" y="346.1" font-size="8.4" fill="#333" stroke="#333" stroke-width="0.22" textLength="8.4" lengthAdjust="spacingAndGlyphs" >–7</text>
<text x="187" y="357.8" font-size="10" fill="#2a2a2a" stroke="#2a2a2a" stroke-width="0.22" textLength="44.6" lengthAdjust="spacingAndGlyphs" >log [ADC] (M)</text>
<text transform="translate(122.4,333.25) rotate(-90)" font-size="8.8" fill="#333" stroke="#333" stroke-width="0.22" textLength="71.5" lengthAdjust="spacingAndGlyphs" >Normalized cell count</text>
<text transform="translate(133,318.9) rotate(-90)" font-size="8.8" fill="#333" stroke="#333" stroke-width="0.22" textLength="49.4" lengthAdjust="spacingAndGlyphs" >(% of media)</text>
<line x1="174" y1="276" x2="174" y2="294" stroke="#b5455f" stroke-width="0.9" />
<line x1="172.6" y1="276" x2="175.4" y2="276" stroke="#b5455f" stroke-width="0.9" />
<line x1="172.6" y1="294" x2="175.4" y2="294" stroke="#b5455f" stroke-width="0.9" />
<line x1="174" y1="276" x2="174" y2="286" stroke="#e58a9b" stroke-width="0.8" />
<line x1="172.6" y1="276" x2="175.4" y2="276" stroke="#e58a9b" stroke-width="0.8" />
<line x1="172.6" y1="286" x2="175.4" y2="286" stroke="#e58a9b" stroke-width="0.8" />
<line x1="192.4" y1="271.4" x2="192.4" y2="282" stroke="#d16a80" stroke-width="0.8" />
<line x1="191" y1="271.4" x2="193.8" y2="271.4" stroke="#d16a80" stroke-width="0.8" />
<line x1="191" y1="282" x2="193.8" y2="282" stroke="#d16a80" stroke-width="0.8" />
<line x1="210.8" y1="276.6" x2="210.8" y2="284" stroke="#e58a9b" stroke-width="0.8" />
<line x1="209.4" y1="276.6" x2="212.2" y2="276.6" stroke="#e58a9b" stroke-width="0.8" />
<line x1="209.4" y1="284" x2="212.2" y2="284" stroke="#e58a9b" stroke-width="0.8" />
<line x1="229.2" y1="267.1" x2="229.2" y2="290.5" stroke="#e8a0ae" stroke-width="0.8" />
<line x1="227.8" y1="267.1" x2="230.6" y2="267.1" stroke="#e8a0ae" stroke-width="0.8" />
<line x1="227.8" y1="290.5" x2="230.6" y2="290.5" stroke="#e8a0ae" stroke-width="0.8" />
<line x1="247.6" y1="277.5" x2="247.6" y2="292.5" stroke="#c3173f" stroke-width="0.8" />
<line x1="246.2" y1="277.5" x2="249" y2="277.5" stroke="#c3173f" stroke-width="0.8" />
<line x1="246.2" y1="292.5" x2="249" y2="292.5" stroke="#c3173f" stroke-width="0.8" />
<path d="M174 278.6 C177.07 278.63 186.98 278.65 192.4 278.8 C197.82 278.95 203.43 278.63 206.5 279.5 C209.57 280.37 209.55 281.58 210.8 284 C212.05 286.42 212.88 290.67 214 294 C215.12 297.33 216.33 300.67 217.5 304 C218.67 307.33 219.83 311.25 221 314 C222.17 316.75 223.13 318.75 224.5 320.5 C225.87 322.25 226.95 323.58 229.2 324.5 C231.45 325.42 234.93 325.67 238 326 C241.07 326.33 246 326.42 247.6 326.5" stroke="#88acc8" stroke-width="1.3" fill="none" />
<path d="M174 285.8 C177.07 285.83 187.98 285.83 192.4 286 C196.82 286.17 198.3 286.33 200.5 286.8 C202.7 287.27 203.88 287.85 205.6 288.8 C207.32 289.75 209.3 290.37 210.8 292.5 C212.3 294.63 213.22 298.45 214.6 301.6 C215.98 304.75 217.72 308.38 219.1 311.4 C220.48 314.42 221.63 317.68 222.9 319.7 C224.17 321.72 225.65 322.65 226.7 323.5 C227.75 324.35 227.32 324.38 229.2 324.8 C231.08 325.22 234.93 325.7 238 326 C241.07 326.3 246 326.5 247.6 326.6" stroke="#1c4a76" stroke-width="1.3" fill="none" />
<path d="M174 281.6 C180.13 281.6 199.05 281.57 210.8 281.6 C222.55 281.63 238.5 281.48 244.5 281.8 C250.5 282.12 246.28 282.37 246.8 283.5 C247.32 284.63 247.47 287.75 247.6 288.6" stroke="#c3173f" stroke-width="1.3" fill="none" />
<line x1="174" y1="280" x2="247.6" y2="280" stroke="#e58a9b" stroke-width="1.3" />
<circle cx="174" cy="281" r="1.2" fill="#e58a9b"/>
<circle cx="192.4" cy="280.3" r="1.2" fill="#e58a9b"/>
<circle cx="210.8" cy="281.5" r="1.2" fill="#e58a9b"/>
<circle cx="229.2" cy="280.2" r="1.2" fill="#e58a9b"/>
<circle cx="247.6" cy="279.8" r="1.2" fill="#e58a9b"/>
<circle cx="247.6" cy="288.6" r="1.3" fill="#c3173f"/>
<circle cx="192.4" cy="286.2" r="1.4" fill="#1c4a76"/>
<circle cx="210.8" cy="292.5" r="1.3" fill="#1c4a76"/>
<circle cx="174" cy="285.8" r="1.3" fill="#1c4a76"/>
<circle cx="229.2" cy="324.6" r="1.3" fill="#88acc8"/>
<circle cx="247.6" cy="326.5" r="1.3" fill="#88acc8"/>
<line x1="158" y1="306" x2="167" y2="306" stroke="#e58a9b" stroke-width="1.1" />
<circle cx="162.5" cy="306" r="1.1" fill="#e58a9b"/>
<text x="171" y="308.4" font-size="6.9" fill="#333" stroke="#333" stroke-width="0.22" textLength="22" lengthAdjust="spacingAndGlyphs" >Vehicle</text>
<line x1="158" y1="314" x2="167" y2="314" stroke="#c3173f" stroke-width="1.1" />
<circle cx="162.5" cy="314" r="1.1" fill="#c3173f"/>
<text x="171" y="316.4" font-size="6.9" fill="#333" stroke="#333" stroke-width="0.22" textLength="44.6" lengthAdjust="spacingAndGlyphs" >Vehicle (+HS5)</text>
<line x1="158" y1="322.3" x2="167" y2="322.3" stroke="#88acc8" stroke-width="1.1" />
<circle cx="162.5" cy="322.3" r="1.1" fill="#88acc8"/>
<text x="171" y="324.7" font-size="6.9" fill="#333" stroke="#333" stroke-width="0.22" textLength="38.4" lengthAdjust="spacingAndGlyphs" >5E3-vedotin</text>
<line x1="158" y1="330.3" x2="167" y2="330.3" stroke="#1c4a76" stroke-width="1.1" />
<circle cx="162.5" cy="330.3" r="1.1" fill="#1c4a76"/>
<text x="171" y="332.7" font-size="6.9" fill="#333" stroke="#333" stroke-width="0.22" textLength="59.8" lengthAdjust="spacingAndGlyphs" >5E3-vedotin (+HS5)</text>
<text x="276" y="254.2" font-size="10.4" fill="#111" stroke="#111" stroke-width="0.25" font-weight="bold" >G</text>
<text x="338.7" y="254.8" font-size="9" fill="#1a1a1a" stroke="#1a1a1a" stroke-width="0.25" font-weight="bold" textLength="35.9" lengthAdjust="spacing" >CD138+</text>
<line x1="320.5" y1="257.6" x2="320.5" y2="334.8" stroke="#231f20" stroke-width="1" />
<line x1="317.6" y1="334.3" x2="320.5" y2="334.3" stroke="#231f20" stroke-width="0.9" />
<text x="309" y="337.3" font-size="8.4" fill="#333" stroke="#333" stroke-width="0.22" textLength="4.2" lengthAdjust="spacingAndGlyphs" >0</text>
<line x1="317.6" y1="310.1" x2="320.5" y2="310.1" stroke="#231f20" stroke-width="0.9" />
<text x="304.8" y="313.1" font-size="8.4" fill="#333" stroke="#333" stroke-width="0.22" textLength="8.4" lengthAdjust="spacingAndGlyphs" >50</text>
<line x1="317.6" y1="285.9" x2="320.5" y2="285.9" stroke="#231f20" stroke-width="0.9" />
<text x="300.6" y="288.9" font-size="8.4" fill="#333" stroke="#333" stroke-width="0.22" textLength="12.6" lengthAdjust="spacingAndGlyphs" >100</text>
<line x1="317.6" y1="261.7" x2="320.5" y2="261.7" stroke="#231f20" stroke-width="0.9" />
<text x="300.6" y="264.7" font-size="8.4" fill="#333" stroke="#333" stroke-width="0.22" textLength="12.6" lengthAdjust="spacingAndGlyphs" >150</text>
<line x1="318.9" y1="334.3" x2="393.9" y2="334.3" stroke="#231f20" stroke-width="1" />
<text transform="translate(284.1,330.7) rotate(-90)" font-size="8.8" fill="#333" stroke="#333" stroke-width="0.22" textLength="65" lengthAdjust="spacingAndGlyphs" >Percent cell viability</text>
<text transform="translate(293.8,335.8) rotate(-90)" font-size="8.8" fill="#333" stroke="#333" stroke-width="0.22" textLength="74" lengthAdjust="spacingAndGlyphs" >(normalized to media)</text>
<line x1="331.4" y1="334.3" x2="331.4" y2="336.9" stroke="#231f20" stroke-width="0.9" />
<rect x="326.4" y="285.9" width="10" height="48.4" fill="#cf1237" />
<line x1="348.6" y1="334.3" x2="348.6" y2="336.9" stroke="#231f20" stroke-width="0.9" />
<line x1="348.6" y1="285.9" x2="348.6" y2="289.77" stroke="#222" stroke-width="0.8" />
<line x1="346.8" y1="285.9" x2="350.4" y2="285.9" stroke="#222" stroke-width="0.8" />
<rect x="343.6" y="287.84" width="10" height="46.46" fill="#1b5a8e" />
<line x1="348.6" y1="287.84" x2="348.6" y2="289.77" stroke="#1a2a3a" stroke-width="0.8" />
<line x1="346.8" y1="289.77" x2="350.4" y2="289.77" stroke="#1a2a3a" stroke-width="0.8" />
<line x1="365.4" y1="334.3" x2="365.4" y2="336.9" stroke="#231f20" stroke-width="0.9" />
<line x1="365.4" y1="285.9" x2="365.4" y2="316.88" stroke="#222" stroke-width="0.8" />
<line x1="363.6" y1="285.9" x2="367.2" y2="285.9" stroke="#222" stroke-width="0.8" />
<rect x="360.4" y="301.63" width="10" height="32.67" fill="#1b5a8e" />
<line x1="365.4" y1="301.63" x2="365.4" y2="316.88" stroke="#1a2a3a" stroke-width="0.8" />
<line x1="363.6" y1="316.88" x2="367.2" y2="316.88" stroke="#1a2a3a" stroke-width="0.8" />
<line x1="382" y1="334.3" x2="382" y2="336.9" stroke="#231f20" stroke-width="0.9" />
<line x1="382" y1="305.26" x2="382" y2="320.26" stroke="#222" stroke-width="0.8" />
<line x1="380.2" y1="305.26" x2="383.8" y2="305.26" stroke="#222" stroke-width="0.8" />
<rect x="377" y="313" width="10" height="21.3" fill="#1b5a8e" />
<line x1="382" y1="313" x2="382" y2="320.26" stroke="#1a2a3a" stroke-width="0.8" />
<line x1="380.2" y1="320.26" x2="383.8" y2="320.26" stroke="#1a2a3a" stroke-width="0.8" />
<text x="318.5" y="345.9" font-size="7.9" fill="#333" stroke="#333" stroke-width="0.22" textLength="25.4" lengthAdjust="spacingAndGlyphs" >Vehicle</text>
<text x="345.55" y="345.9" font-size="7.9" fill="#333" stroke="#333" stroke-width="0.22" textLength="4.5" lengthAdjust="spacingAndGlyphs" >3</text>
<text x="360.7" y="345.9" font-size="7.9" fill="#333" stroke="#333" stroke-width="0.22" textLength="9" lengthAdjust="spacingAndGlyphs" >30</text>
<text x="375.65" y="345.9" font-size="7.9" fill="#333" stroke="#333" stroke-width="0.22" textLength="13.5" lengthAdjust="spacingAndGlyphs" >300</text>
<text x="330" y="354.2" font-size="7" fill="#333" stroke="#333" stroke-width="0.22" textLength="53.6" lengthAdjust="spacingAndGlyphs" >5E3-vedotin (nM)</text>
<text x="400" y="254.2" font-size="10.4" fill="#111" stroke="#111" stroke-width="0.25" font-weight="bold" >H</text>
<text x="461.6" y="254.8" font-size="9" fill="#1a1a1a" stroke="#1a1a1a" stroke-width="0.25" font-weight="bold" textLength="30.4" lengthAdjust="spacing" >CD14+</text>
<line x1="440.5" y1="257.6" x2="440.5" y2="334.8" stroke="#231f20" stroke-width="1" />
<line x1="437.6" y1="334.3" x2="440.5" y2="334.3" stroke="#231f20" stroke-width="0.9" />
<text x="429" y="337.3" font-size="8.4" fill="#333" stroke="#333" stroke-width="0.22" textLength="4.2" lengthAdjust="spacingAndGlyphs" >0</text>
<line x1="437.6" y1="310.1" x2="440.5" y2="310.1" stroke="#231f20" stroke-width="0.9" />
<text x="424.8" y="313.1" font-size="8.4" fill="#333" stroke="#333" stroke-width="0.22" textLength="8.4" lengthAdjust="spacingAndGlyphs" >50</text>
<line x1="437.6" y1="285.9" x2="440.5" y2="285.9" stroke="#231f20" stroke-width="0.9" />
<text x="420.6" y="288.9" font-size="8.4" fill="#333" stroke="#333" stroke-width="0.22" textLength="12.6" lengthAdjust="spacingAndGlyphs" >100</text>
<line x1="437.6" y1="261.7" x2="440.5" y2="261.7" stroke="#231f20" stroke-width="0.9" />
<text x="420.6" y="264.7" font-size="8.4" fill="#333" stroke="#333" stroke-width="0.22" textLength="12.6" lengthAdjust="spacingAndGlyphs" >150</text>
<line x1="438.9" y1="334.3" x2="513.9" y2="334.3" stroke="#231f20" stroke-width="1" />
<text transform="translate(405.2,330.7) rotate(-90)" font-size="8.8" fill="#333" stroke="#333" stroke-width="0.22" textLength="65" lengthAdjust="spacingAndGlyphs" >Percent cell viability</text>
<text transform="translate(416,335.8) rotate(-90)" font-size="8.8" fill="#333" stroke="#333" stroke-width="0.22" textLength="74" lengthAdjust="spacingAndGlyphs" >(normalized to media)</text>
<line x1="452" y1="334.3" x2="452" y2="336.9" stroke="#231f20" stroke-width="0.9" />
<rect x="447" y="285.9" width="10" height="48.4" fill="#cf1237" />
<line x1="468.6" y1="334.3" x2="468.6" y2="336.9" stroke="#231f20" stroke-width="0.9" />
<line x1="468.6" y1="282.03" x2="468.6" y2="287.35" stroke="#222" stroke-width="0.8" />
<line x1="466.8" y1="282.03" x2="470.4" y2="282.03" stroke="#222" stroke-width="0.8" />
<rect x="463.6" y="284.69" width="10" height="49.61" fill="#1b5a8e" />
<line x1="468.6" y1="284.69" x2="468.6" y2="287.35" stroke="#1a2a3a" stroke-width="0.8" />
<line x1="466.8" y1="287.35" x2="470.4" y2="287.35" stroke="#1a2a3a" stroke-width="0.8" />
<line x1="485" y1="334.3" x2="485" y2="336.9" stroke="#231f20" stroke-width="0.9" />
<line x1="485" y1="284.93" x2="485" y2="292.68" stroke="#222" stroke-width="0.8" />
<line x1="483.2" y1="284.93" x2="486.8" y2="284.93" stroke="#222" stroke-width="0.8" />
<rect x="480" y="289.05" width="10" height="45.25" fill="#1b5a8e" />
<line x1="485" y1="289.05" x2="485" y2="292.68" stroke="#1a2a3a" stroke-width="0.8" />
<line x1="483.2" y1="292.68" x2="486.8" y2="292.68" stroke="#1a2a3a" stroke-width="0.8" />
<line x1="502" y1="334.3" x2="502" y2="336.9" stroke="#231f20" stroke-width="0.9" />
<line x1="502" y1="290.26" x2="502" y2="300.42" stroke="#222" stroke-width="0.8" />
<line x1="500.2" y1="290.26" x2="503.8" y2="290.26" stroke="#222" stroke-width="0.8" />
<rect x="497" y="295.58" width="10" height="38.72" fill="#1b5a8e" />
<line x1="502" y1="295.58" x2="502" y2="300.42" stroke="#1a2a3a" stroke-width="0.8" />
<line x1="500.2" y1="300.42" x2="503.8" y2="300.42" stroke="#1a2a3a" stroke-width="0.8" />
<text x="437.9" y="345.9" font-size="7.9" fill="#333" stroke="#333" stroke-width="0.22" textLength="25.4" lengthAdjust="spacingAndGlyphs" >Vehicle</text>
<text x="466.15" y="345.9" font-size="7.9" fill="#333" stroke="#333" stroke-width="0.22" textLength="4.5" lengthAdjust="spacingAndGlyphs" >3</text>
<text x="480.5" y="345.9" font-size="7.9" fill="#333" stroke="#333" stroke-width="0.22" textLength="9" lengthAdjust="spacingAndGlyphs" >30</text>
<text x="495.05" y="345.9" font-size="7.9" fill="#333" stroke="#333" stroke-width="0.22" textLength="13.5" lengthAdjust="spacingAndGlyphs" >100</text>
<text x="450" y="354.2" font-size="7" fill="#333" stroke="#333" stroke-width="0.22" textLength="54" lengthAdjust="spacingAndGlyphs" >5E3-vedotin (nM)</text>
</svg>
</body></html>
